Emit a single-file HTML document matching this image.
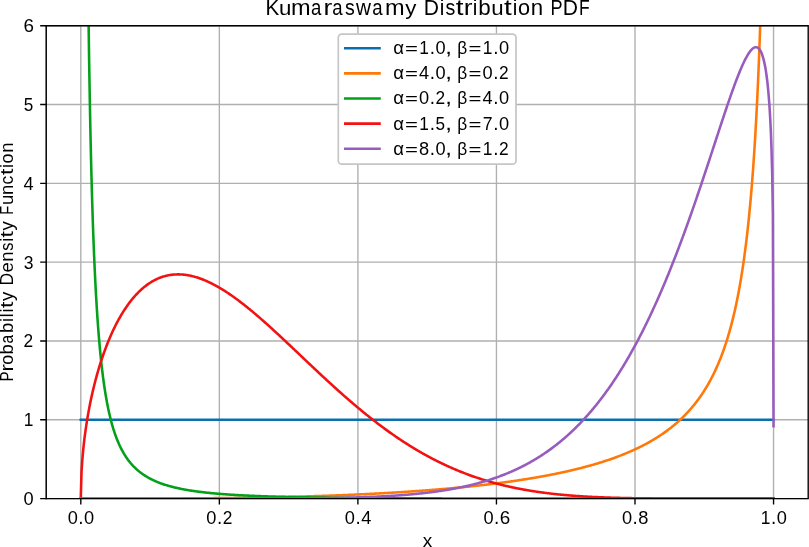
<!DOCTYPE html>
<html><head><meta charset="utf-8"><title>Kumaraswamy Distribution PDF</title>
<style>html,body{margin:0;padding:0;background:#fff;}body{width:809px;height:547px;overflow:hidden;position:relative;font-family:"Liberation Sans",sans-serif;}</style>
</head><body>
<svg width="809" height="547" viewBox="0 0 809 547" style="position:absolute;left:0;top:0;will-change:transform">
<rect width="809" height="547" fill="#fff"/>
<defs><clipPath id="ax"><rect x="46.16" y="25.7" width="762.0400000000001" height="472.90000000000003"/></clipPath></defs>
<path d="M80.80 25.70V498.60M219.35 25.70V498.60M357.90 25.70V498.60M496.45 25.70V498.60M635.00 25.70V498.60M773.55 25.70V498.60M46.16 498.60H808.20M46.16 419.78H808.20M46.16 340.97H808.20M46.16 262.15H808.20M46.16 183.33H808.20M46.16 104.52H808.20M46.16 25.70H808.20" stroke="#b0b0b0" stroke-width="1.37" fill="none" stroke-linecap="butt"/>
<g clip-path="url(#ax)" fill="none" stroke-width="2.57" stroke-linejoin="round" stroke-linecap="square">
<polyline points="80.80,419.78 81.49,419.78 82.19,419.78 82.88,419.78 83.57,419.78 84.27,419.78 84.96,419.78 85.65,419.78 86.35,419.78 87.04,419.78 87.74,419.78 88.43,419.78 89.12,419.78 89.82,419.78 90.51,419.78 91.20,419.78 91.90,419.78 92.59,419.78 93.28,419.78 93.98,419.78 94.67,419.78 95.36,419.78 96.06,419.78 96.75,419.78 97.44,419.78 98.14,419.78 98.83,419.78 99.52,419.78 100.22,419.78 100.91,419.78 101.60,419.78 102.30,419.78 102.99,419.78 103.68,419.78 104.38,419.78 105.07,419.78 105.76,419.78 106.46,419.78 107.15,419.78 107.84,419.78 108.54,419.78 109.23,419.78 109.93,419.78 110.62,419.78 111.31,419.78 112.01,419.78 112.70,419.78 113.39,419.78 114.09,419.78 114.78,419.78 115.47,419.78 116.17,419.78 116.86,419.78 117.55,419.78 118.25,419.78 118.94,419.78 119.63,419.78 120.33,419.78 121.02,419.78 121.71,419.78 122.41,419.78 123.10,419.78 123.79,419.78 124.49,419.78 125.18,419.78 125.87,419.78 126.57,419.78 127.26,419.78 127.95,419.78 128.65,419.78 129.34,419.78 130.04,419.78 130.73,419.78 131.42,419.78 132.12,419.78 132.81,419.78 133.50,419.78 134.20,419.78 134.89,419.78 135.58,419.78 136.28,419.78 136.97,419.78 137.66,419.78 138.36,419.78 139.05,419.78 139.74,419.78 140.44,419.78 141.13,419.78 141.82,419.78 142.52,419.78 143.21,419.78 143.90,419.78 144.60,419.78 145.29,419.78 145.98,419.78 146.68,419.78 147.37,419.78 148.06,419.78 148.76,419.78 149.45,419.78 150.14,419.78 150.84,419.78 151.53,419.78 152.23,419.78 152.92,419.78 153.61,419.78 154.31,419.78 155.00,419.78 155.69,419.78 156.39,419.78 157.08,419.78 157.77,419.78 158.47,419.78 159.16,419.78 159.85,419.78 160.55,419.78 161.24,419.78 161.93,419.78 162.63,419.78 163.32,419.78 164.01,419.78 164.71,419.78 165.40,419.78 166.09,419.78 166.79,419.78 167.48,419.78 168.17,419.78 168.87,419.78 169.56,419.78 170.25,419.78 170.95,419.78 171.64,419.78 172.34,419.78 173.03,419.78 173.72,419.78 174.42,419.78 175.11,419.78 175.80,419.78 176.50,419.78 177.19,419.78 177.88,419.78 178.58,419.78 179.27,419.78 179.96,419.78 180.66,419.78 181.35,419.78 182.04,419.78 182.74,419.78 183.43,419.78 184.12,419.78 184.82,419.78 185.51,419.78 186.20,419.78 186.90,419.78 187.59,419.78 188.28,419.78 188.98,419.78 189.67,419.78 190.36,419.78 191.06,419.78 191.75,419.78 192.44,419.78 193.14,419.78 193.83,419.78 194.53,419.78 195.22,419.78 195.91,419.78 196.61,419.78 197.30,419.78 197.99,419.78 198.69,419.78 199.38,419.78 200.07,419.78 200.77,419.78 201.46,419.78 202.15,419.78 202.85,419.78 203.54,419.78 204.23,419.78 204.93,419.78 205.62,419.78 206.31,419.78 207.01,419.78 207.70,419.78 208.39,419.78 209.09,419.78 209.78,419.78 210.47,419.78 211.17,419.78 211.86,419.78 212.55,419.78 213.25,419.78 213.94,419.78 214.64,419.78 215.33,419.78 216.02,419.78 216.72,419.78 217.41,419.78 218.10,419.78 218.80,419.78 219.49,419.78 220.18,419.78 220.88,419.78 221.57,419.78 222.26,419.78 222.96,419.78 223.65,419.78 224.34,419.78 225.04,419.78 225.73,419.78 226.42,419.78 227.12,419.78 227.81,419.78 228.50,419.78 229.20,419.78 229.89,419.78 230.58,419.78 231.28,419.78 231.97,419.78 232.66,419.78 233.36,419.78 234.05,419.78 234.74,419.78 235.44,419.78 236.13,419.78 236.83,419.78 237.52,419.78 238.21,419.78 238.91,419.78 239.60,419.78 240.29,419.78 240.99,419.78 241.68,419.78 242.37,419.78 243.07,419.78 243.76,419.78 244.45,419.78 245.15,419.78 245.84,419.78 246.53,419.78 247.23,419.78 247.92,419.78 248.61,419.78 249.31,419.78 250.00,419.78 250.69,419.78 251.39,419.78 252.08,419.78 252.77,419.78 253.47,419.78 254.16,419.78 254.85,419.78 255.55,419.78 256.24,419.78 256.93,419.78 257.63,419.78 258.32,419.78 259.02,419.78 259.71,419.78 260.40,419.78 261.10,419.78 261.79,419.78 262.48,419.78 263.18,419.78 263.87,419.78 264.56,419.78 265.26,419.78 265.95,419.78 266.64,419.78 267.34,419.78 268.03,419.78 268.72,419.78 269.42,419.78 270.11,419.78 270.80,419.78 271.50,419.78 272.19,419.78 272.88,419.78 273.58,419.78 274.27,419.78 274.96,419.78 275.66,419.78 276.35,419.78 277.04,419.78 277.74,419.78 278.43,419.78 279.13,419.78 279.82,419.78 280.51,419.78 281.21,419.78 281.90,419.78 282.59,419.78 283.29,419.78 283.98,419.78 284.67,419.78 285.37,419.78 286.06,419.78 286.75,419.78 287.45,419.78 288.14,419.78 288.83,419.78 289.53,419.78 290.22,419.78 290.91,419.78 291.61,419.78 292.30,419.78 292.99,419.78 293.69,419.78 294.38,419.78 295.07,419.78 295.77,419.78 296.46,419.78 297.15,419.78 297.85,419.78 298.54,419.78 299.23,419.78 299.93,419.78 300.62,419.78 301.32,419.78 302.01,419.78 302.70,419.78 303.40,419.78 304.09,419.78 304.78,419.78 305.48,419.78 306.17,419.78 306.86,419.78 307.56,419.78 308.25,419.78 308.94,419.78 309.64,419.78 310.33,419.78 311.02,419.78 311.72,419.78 312.41,419.78 313.10,419.78 313.80,419.78 314.49,419.78 315.18,419.78 315.88,419.78 316.57,419.78 317.26,419.78 317.96,419.78 318.65,419.78 319.34,419.78 320.04,419.78 320.73,419.78 321.43,419.78 322.12,419.78 322.81,419.78 323.51,419.78 324.20,419.78 324.89,419.78 325.59,419.78 326.28,419.78 326.97,419.78 327.67,419.78 328.36,419.78 329.05,419.78 329.75,419.78 330.44,419.78 331.13,419.78 331.83,419.78 332.52,419.78 333.21,419.78 333.91,419.78 334.60,419.78 335.29,419.78 335.99,419.78 336.68,419.78 337.37,419.78 338.07,419.78 338.76,419.78 339.45,419.78 340.15,419.78 340.84,419.78 341.53,419.78 342.23,419.78 342.92,419.78 343.62,419.78 344.31,419.78 345.00,419.78 345.70,419.78 346.39,419.78 347.08,419.78 347.78,419.78 348.47,419.78 349.16,419.78 349.86,419.78 350.55,419.78 351.24,419.78 351.94,419.78 352.63,419.78 353.32,419.78 354.02,419.78 354.71,419.78 355.40,419.78 356.10,419.78 356.79,419.78 357.48,419.78 358.18,419.78 358.87,419.78 359.56,419.78 360.26,419.78 360.95,419.78 361.64,419.78 362.34,419.78 363.03,419.78 363.73,419.78 364.42,419.78 365.11,419.78 365.81,419.78 366.50,419.78 367.19,419.78 367.89,419.78 368.58,419.78 369.27,419.78 369.97,419.78 370.66,419.78 371.35,419.78 372.05,419.78 372.74,419.78 373.43,419.78 374.13,419.78 374.82,419.78 375.51,419.78 376.21,419.78 376.90,419.78 377.59,419.78 378.29,419.78 378.98,419.78 379.67,419.78 380.37,419.78 381.06,419.78 381.75,419.78 382.45,419.78 383.14,419.78 383.83,419.78 384.53,419.78 385.22,419.78 385.92,419.78 386.61,419.78 387.30,419.78 388.00,419.78 388.69,419.78 389.38,419.78 390.08,419.78 390.77,419.78 391.46,419.78 392.16,419.78 392.85,419.78 393.54,419.78 394.24,419.78 394.93,419.78 395.62,419.78 396.32,419.78 397.01,419.78 397.70,419.78 398.40,419.78 399.09,419.78 399.78,419.78 400.48,419.78 401.17,419.78 401.86,419.78 402.56,419.78 403.25,419.78 403.94,419.78 404.64,419.78 405.33,419.78 406.03,419.78 406.72,419.78 407.41,419.78 408.11,419.78 408.80,419.78 409.49,419.78 410.19,419.78 410.88,419.78 411.57,419.78 412.27,419.78 412.96,419.78 413.65,419.78 414.35,419.78 415.04,419.78 415.73,419.78 416.43,419.78 417.12,419.78 417.81,419.78 418.51,419.78 419.20,419.78 419.89,419.78 420.59,419.78 421.28,419.78 421.97,419.78 422.67,419.78 423.36,419.78 424.05,419.78 424.75,419.78 425.44,419.78 426.13,419.78 426.83,419.78 427.52,419.78 428.22,419.78 428.91,419.78 429.60,419.78 430.30,419.78 430.99,419.78 431.68,419.78 432.38,419.78 433.07,419.78 433.76,419.78 434.46,419.78 435.15,419.78 435.84,419.78 436.54,419.78 437.23,419.78 437.92,419.78 438.62,419.78 439.31,419.78 440.00,419.78 440.70,419.78 441.39,419.78 442.08,419.78 442.78,419.78 443.47,419.78 444.16,419.78 444.86,419.78 445.55,419.78 446.24,419.78 446.94,419.78 447.63,419.78 448.32,419.78 449.02,419.78 449.71,419.78 450.41,419.78 451.10,419.78 451.79,419.78 452.49,419.78 453.18,419.78 453.87,419.78 454.57,419.78 455.26,419.78 455.95,419.78 456.65,419.78 457.34,419.78 458.03,419.78 458.73,419.78 459.42,419.78 460.11,419.78 460.81,419.78 461.50,419.78 462.19,419.78 462.89,419.78 463.58,419.78 464.27,419.78 464.97,419.78 465.66,419.78 466.35,419.78 467.05,419.78 467.74,419.78 468.43,419.78 469.13,419.78 469.82,419.78 470.52,419.78 471.21,419.78 471.90,419.78 472.60,419.78 473.29,419.78 473.98,419.78 474.68,419.78 475.37,419.78 476.06,419.78 476.76,419.78 477.45,419.78 478.14,419.78 478.84,419.78 479.53,419.78 480.22,419.78 480.92,419.78 481.61,419.78 482.30,419.78 483.00,419.78 483.69,419.78 484.38,419.78 485.08,419.78 485.77,419.78 486.46,419.78 487.16,419.78 487.85,419.78 488.54,419.78 489.24,419.78 489.93,419.78 490.62,419.78 491.32,419.78 492.01,419.78 492.71,419.78 493.40,419.78 494.09,419.78 494.79,419.78 495.48,419.78 496.17,419.78 496.87,419.78 497.56,419.78 498.25,419.78 498.95,419.78 499.64,419.78 500.33,419.78 501.03,419.78 501.72,419.78 502.41,419.78 503.11,419.78 503.80,419.78 504.49,419.78 505.19,419.78 505.88,419.78 506.57,419.78 507.27,419.78 507.96,419.78 508.65,419.78 509.35,419.78 510.04,419.78 510.73,419.78 511.43,419.78 512.12,419.78 512.82,419.78 513.51,419.78 514.20,419.78 514.90,419.78 515.59,419.78 516.28,419.78 516.98,419.78 517.67,419.78 518.36,419.78 519.06,419.78 519.75,419.78 520.44,419.78 521.14,419.78 521.83,419.78 522.52,419.78 523.22,419.78 523.91,419.78 524.60,419.78 525.30,419.78 525.99,419.78 526.68,419.78 527.38,419.78 528.07,419.78 528.76,419.78 529.46,419.78 530.15,419.78 530.84,419.78 531.54,419.78 532.23,419.78 532.92,419.78 533.62,419.78 534.31,419.78 535.01,419.78 535.70,419.78 536.39,419.78 537.09,419.78 537.78,419.78 538.47,419.78 539.17,419.78 539.86,419.78 540.55,419.78 541.25,419.78 541.94,419.78 542.63,419.78 543.33,419.78 544.02,419.78 544.71,419.78 545.41,419.78 546.10,419.78 546.79,419.78 547.49,419.78 548.18,419.78 548.87,419.78 549.57,419.78 550.26,419.78 550.95,419.78 551.65,419.78 552.34,419.78 553.03,419.78 553.73,419.78 554.42,419.78 555.12,419.78 555.81,419.78 556.50,419.78 557.20,419.78 557.89,419.78 558.58,419.78 559.28,419.78 559.97,419.78 560.66,419.78 561.36,419.78 562.05,419.78 562.74,419.78 563.44,419.78 564.13,419.78 564.82,419.78 565.52,419.78 566.21,419.78 566.90,419.78 567.60,419.78 568.29,419.78 568.98,419.78 569.68,419.78 570.37,419.78 571.06,419.78 571.76,419.78 572.45,419.78 573.14,419.78 573.84,419.78 574.53,419.78 575.22,419.78 575.92,419.78 576.61,419.78 577.31,419.78 578.00,419.78 578.69,419.78 579.39,419.78 580.08,419.78 580.77,419.78 581.47,419.78 582.16,419.78 582.85,419.78 583.55,419.78 584.24,419.78 584.93,419.78 585.63,419.78 586.32,419.78 587.01,419.78 587.71,419.78 588.40,419.78 589.09,419.78 589.79,419.78 590.48,419.78 591.17,419.78 591.87,419.78 592.56,419.78 593.25,419.78 593.95,419.78 594.64,419.78 595.33,419.78 596.03,419.78 596.72,419.78 597.42,419.78 598.11,419.78 598.80,419.78 599.50,419.78 600.19,419.78 600.88,419.78 601.58,419.78 602.27,419.78 602.96,419.78 603.66,419.78 604.35,419.78 605.04,419.78 605.74,419.78 606.43,419.78 607.12,419.78 607.82,419.78 608.51,419.78 609.20,419.78 609.90,419.78 610.59,419.78 611.28,419.78 611.98,419.78 612.67,419.78 613.36,419.78 614.06,419.78 614.75,419.78 615.44,419.78 616.14,419.78 616.83,419.78 617.52,419.78 618.22,419.78 618.91,419.78 619.61,419.78 620.30,419.78 620.99,419.78 621.69,419.78 622.38,419.78 623.07,419.78 623.77,419.78 624.46,419.78 625.15,419.78 625.85,419.78 626.54,419.78 627.23,419.78 627.93,419.78 628.62,419.78 629.31,419.78 630.01,419.78 630.70,419.78 631.39,419.78 632.09,419.78 632.78,419.78 633.47,419.78 634.17,419.78 634.86,419.78 635.55,419.78 636.25,419.78 636.94,419.78 637.63,419.78 638.33,419.78 639.02,419.78 639.71,419.78 640.41,419.78 641.10,419.78 641.80,419.78 642.49,419.78 643.18,419.78 643.88,419.78 644.57,419.78 645.26,419.78 645.96,419.78 646.65,419.78 647.34,419.78 648.04,419.78 648.73,419.78 649.42,419.78 650.12,419.78 650.81,419.78 651.50,419.78 652.20,419.78 652.89,419.78 653.58,419.78 654.28,419.78 654.97,419.78 655.66,419.78 656.36,419.78 657.05,419.78 657.74,419.78 658.44,419.78 659.13,419.78 659.82,419.78 660.52,419.78 661.21,419.78 661.91,419.78 662.60,419.78 663.29,419.78 663.99,419.78 664.68,419.78 665.37,419.78 666.07,419.78 666.76,419.78 667.45,419.78 668.15,419.78 668.84,419.78 669.53,419.78 670.23,419.78 670.92,419.78 671.61,419.78 672.31,419.78 673.00,419.78 673.69,419.78 674.39,419.78 675.08,419.78 675.77,419.78 676.47,419.78 677.16,419.78 677.85,419.78 678.55,419.78 679.24,419.78 679.93,419.78 680.63,419.78 681.32,419.78 682.01,419.78 682.71,419.78 683.40,419.78 684.10,419.78 684.79,419.78 685.48,419.78 686.18,419.78 686.87,419.78 687.56,419.78 688.26,419.78 688.95,419.78 689.64,419.78 690.34,419.78 691.03,419.78 691.72,419.78 692.42,419.78 693.11,419.78 693.80,419.78 694.50,419.78 695.19,419.78 695.88,419.78 696.58,419.78 697.27,419.78 697.96,419.78 698.66,419.78 699.35,419.78 700.04,419.78 700.74,419.78 701.43,419.78 702.12,419.78 702.82,419.78 703.51,419.78 704.21,419.78 704.90,419.78 705.59,419.78 706.29,419.78 706.98,419.78 707.67,419.78 708.37,419.78 709.06,419.78 709.75,419.78 710.45,419.78 711.14,419.78 711.83,419.78 712.53,419.78 713.22,419.78 713.91,419.78 714.61,419.78 715.30,419.78 715.99,419.78 716.69,419.78 717.38,419.78 718.07,419.78 718.77,419.78 719.46,419.78 720.15,419.78 720.85,419.78 721.54,419.78 722.23,419.78 722.93,419.78 723.62,419.78 724.31,419.78 725.01,419.78 725.70,419.78 726.40,419.78 727.09,419.78 727.78,419.78 728.48,419.78 729.17,419.78 729.86,419.78 730.56,419.78 731.25,419.78 731.94,419.78 732.64,419.78 733.33,419.78 734.02,419.78 734.72,419.78 735.41,419.78 736.10,419.78 736.80,419.78 737.49,419.78 738.18,419.78 738.88,419.78 739.57,419.78 740.26,419.78 740.96,419.78 741.65,419.78 742.34,419.78 743.04,419.78 743.73,419.78 744.42,419.78 745.12,419.78 745.81,419.78 746.51,419.78 747.20,419.78 747.89,419.78 748.59,419.78 749.28,419.78 749.97,419.78 750.67,419.78 751.36,419.78 752.05,419.78 752.75,419.78 753.44,419.78 754.13,419.78 754.83,419.78 755.52,419.78 756.21,419.78 756.91,419.78 757.60,419.78 758.29,419.78 758.99,419.78 759.68,419.78 760.37,419.78 761.07,419.78 761.76,419.78 762.45,419.78 763.15,419.78 763.84,419.78 764.53,419.78 765.23,419.78 765.92,419.78 766.61,419.78 767.31,419.78 768.00,419.78 768.70,419.78 769.39,419.78 770.08,419.78 770.78,419.78 771.47,419.78 772.16,419.78 772.86,419.78 773.55,419.78" stroke="#0a6fae"/>
<polyline points="80.80,498.60 81.49,498.60 82.19,498.60 82.88,498.60 83.57,498.60 84.27,498.60 84.96,498.60 85.65,498.60 86.35,498.60 87.04,498.60 87.74,498.60 88.43,498.60 89.12,498.60 89.82,498.60 90.51,498.60 91.20,498.60 91.90,498.60 92.59,498.60 93.28,498.60 93.98,498.60 94.67,498.60 95.36,498.60 96.06,498.60 96.75,498.60 97.44,498.60 98.14,498.60 98.83,498.60 99.52,498.60 100.22,498.60 100.91,498.60 101.60,498.60 102.30,498.60 102.99,498.60 103.68,498.60 104.38,498.60 105.07,498.60 105.76,498.60 106.46,498.60 107.15,498.60 107.84,498.60 108.54,498.60 109.23,498.60 109.93,498.60 110.62,498.59 111.31,498.59 112.01,498.59 112.70,498.59 113.39,498.59 114.09,498.59 114.78,498.59 115.47,498.59 116.17,498.59 116.86,498.59 117.55,498.59 118.25,498.59 118.94,498.59 119.63,498.59 120.33,498.59 121.02,498.59 121.71,498.59 122.41,498.59 123.10,498.59 123.79,498.58 124.49,498.58 125.18,498.58 125.87,498.58 126.57,498.58 127.26,498.58 127.95,498.58 128.65,498.58 129.34,498.58 130.04,498.58 130.73,498.58 131.42,498.58 132.12,498.57 132.81,498.57 133.50,498.57 134.20,498.57 134.89,498.57 135.58,498.57 136.28,498.57 136.97,498.57 137.66,498.57 138.36,498.56 139.05,498.56 139.74,498.56 140.44,498.56 141.13,498.56 141.82,498.56 142.52,498.56 143.21,498.55 143.90,498.55 144.60,498.55 145.29,498.55 145.98,498.55 146.68,498.55 147.37,498.54 148.06,498.54 148.76,498.54 149.45,498.54 150.14,498.54 150.84,498.53 151.53,498.53 152.23,498.53 152.92,498.53 153.61,498.53 154.31,498.52 155.00,498.52 155.69,498.52 156.39,498.52 157.08,498.52 157.77,498.51 158.47,498.51 159.16,498.51 159.85,498.51 160.55,498.50 161.24,498.50 161.93,498.50 162.63,498.50 163.32,498.49 164.01,498.49 164.71,498.49 165.40,498.49 166.09,498.48 166.79,498.48 167.48,498.48 168.17,498.47 168.87,498.47 169.56,498.47 170.25,498.46 170.95,498.46 171.64,498.46 172.34,498.45 173.03,498.45 173.72,498.45 174.42,498.44 175.11,498.44 175.80,498.44 176.50,498.43 177.19,498.43 177.88,498.43 178.58,498.42 179.27,498.42 179.96,498.41 180.66,498.41 181.35,498.41 182.04,498.40 182.74,498.40 183.43,498.39 184.12,498.39 184.82,498.39 185.51,498.38 186.20,498.38 186.90,498.37 187.59,498.37 188.28,498.36 188.98,498.36 189.67,498.36 190.36,498.35 191.06,498.35 191.75,498.34 192.44,498.34 193.14,498.33 193.83,498.33 194.53,498.32 195.22,498.32 195.91,498.31 196.61,498.31 197.30,498.30 197.99,498.29 198.69,498.29 199.38,498.28 200.07,498.28 200.77,498.27 201.46,498.27 202.15,498.26 202.85,498.25 203.54,498.25 204.23,498.24 204.93,498.24 205.62,498.23 206.31,498.22 207.01,498.22 207.70,498.21 208.39,498.21 209.09,498.20 209.78,498.19 210.47,498.19 211.17,498.18 211.86,498.17 212.55,498.17 213.25,498.16 213.94,498.15 214.64,498.14 215.33,498.14 216.02,498.13 216.72,498.12 217.41,498.12 218.10,498.11 218.80,498.10 219.49,498.09 220.18,498.09 220.88,498.08 221.57,498.07 222.26,498.06 222.96,498.05 223.65,498.05 224.34,498.04 225.04,498.03 225.73,498.02 226.42,498.01 227.12,498.00 227.81,498.00 228.50,497.99 229.20,497.98 229.89,497.97 230.58,497.96 231.28,497.95 231.97,497.94 232.66,497.93 233.36,497.93 234.05,497.92 234.74,497.91 235.44,497.90 236.13,497.89 236.83,497.88 237.52,497.87 238.21,497.86 238.91,497.85 239.60,497.84 240.29,497.83 240.99,497.82 241.68,497.81 242.37,497.80 243.07,497.79 243.76,497.78 244.45,497.77 245.15,497.76 245.84,497.75 246.53,497.73 247.23,497.72 247.92,497.71 248.61,497.70 249.31,497.69 250.00,497.68 250.69,497.67 251.39,497.66 252.08,497.64 252.77,497.63 253.47,497.62 254.16,497.61 254.85,497.60 255.55,497.58 256.24,497.57 256.93,497.56 257.63,497.55 258.32,497.54 259.02,497.52 259.71,497.51 260.40,497.50 261.10,497.48 261.79,497.47 262.48,497.46 263.18,497.45 263.87,497.43 264.56,497.42 265.26,497.40 265.95,497.39 266.64,497.38 267.34,497.36 268.03,497.35 268.72,497.34 269.42,497.32 270.11,497.31 270.80,497.29 271.50,497.28 272.19,497.26 272.88,497.25 273.58,497.23 274.27,497.22 274.96,497.20 275.66,497.19 276.35,497.17 277.04,497.16 277.74,497.14 278.43,497.13 279.13,497.11 279.82,497.10 280.51,497.08 281.21,497.06 281.90,497.05 282.59,497.03 283.29,497.02 283.98,497.00 284.67,496.98 285.37,496.97 286.06,496.95 286.75,496.93 287.45,496.92 288.14,496.90 288.83,496.88 289.53,496.86 290.22,496.85 290.91,496.83 291.61,496.81 292.30,496.79 292.99,496.78 293.69,496.76 294.38,496.74 295.07,496.72 295.77,496.70 296.46,496.68 297.15,496.66 297.85,496.65 298.54,496.63 299.23,496.61 299.93,496.59 300.62,496.57 301.32,496.55 302.01,496.53 302.70,496.51 303.40,496.49 304.09,496.47 304.78,496.45 305.48,496.43 306.17,496.41 306.86,496.39 307.56,496.37 308.25,496.35 308.94,496.33 309.64,496.31 310.33,496.28 311.02,496.26 311.72,496.24 312.41,496.22 313.10,496.20 313.80,496.18 314.49,496.15 315.18,496.13 315.88,496.11 316.57,496.09 317.26,496.06 317.96,496.04 318.65,496.02 319.34,496.00 320.04,495.97 320.73,495.95 321.43,495.93 322.12,495.90 322.81,495.88 323.51,495.86 324.20,495.83 324.89,495.81 325.59,495.78 326.28,495.76 326.97,495.73 327.67,495.71 328.36,495.68 329.05,495.66 329.75,495.63 330.44,495.61 331.13,495.58 331.83,495.56 332.52,495.53 333.21,495.51 333.91,495.48 334.60,495.45 335.29,495.43 335.99,495.40 336.68,495.37 337.37,495.35 338.07,495.32 338.76,495.29 339.45,495.27 340.15,495.24 340.84,495.21 341.53,495.18 342.23,495.16 342.92,495.13 343.62,495.10 344.31,495.07 345.00,495.04 345.70,495.01 346.39,494.98 347.08,494.96 347.78,494.93 348.47,494.90 349.16,494.87 349.86,494.84 350.55,494.81 351.24,494.78 351.94,494.75 352.63,494.72 353.32,494.69 354.02,494.66 354.71,494.62 355.40,494.59 356.10,494.56 356.79,494.53 357.48,494.50 358.18,494.47 358.87,494.44 359.56,494.40 360.26,494.37 360.95,494.34 361.64,494.31 362.34,494.27 363.03,494.24 363.73,494.21 364.42,494.17 365.11,494.14 365.81,494.11 366.50,494.07 367.19,494.04 367.89,494.00 368.58,493.97 369.27,493.93 369.97,493.90 370.66,493.86 371.35,493.83 372.05,493.79 372.74,493.76 373.43,493.72 374.13,493.69 374.82,493.65 375.51,493.61 376.21,493.58 376.90,493.54 377.59,493.50 378.29,493.47 378.98,493.43 379.67,493.39 380.37,493.35 381.06,493.32 381.75,493.28 382.45,493.24 383.14,493.20 383.83,493.16 384.53,493.12 385.22,493.08 385.92,493.04 386.61,493.01 387.30,492.97 388.00,492.93 388.69,492.89 389.38,492.84 390.08,492.80 390.77,492.76 391.46,492.72 392.16,492.68 392.85,492.64 393.54,492.60 394.24,492.56 394.93,492.51 395.62,492.47 396.32,492.43 397.01,492.39 397.70,492.34 398.40,492.30 399.09,492.26 399.78,492.21 400.48,492.17 401.17,492.13 401.86,492.08 402.56,492.04 403.25,491.99 403.94,491.95 404.64,491.90 405.33,491.86 406.03,491.81 406.72,491.76 407.41,491.72 408.11,491.67 408.80,491.63 409.49,491.58 410.19,491.53 410.88,491.48 411.57,491.44 412.27,491.39 412.96,491.34 413.65,491.29 414.35,491.24 415.04,491.20 415.73,491.15 416.43,491.10 417.12,491.05 417.81,491.00 418.51,490.95 419.20,490.90 419.89,490.85 420.59,490.80 421.28,490.75 421.97,490.69 422.67,490.64 423.36,490.59 424.05,490.54 424.75,490.49 425.44,490.43 426.13,490.38 426.83,490.33 427.52,490.27 428.22,490.22 428.91,490.17 429.60,490.11 430.30,490.06 430.99,490.00 431.68,489.95 432.38,489.89 433.07,489.84 433.76,489.78 434.46,489.73 435.15,489.67 435.84,489.61 436.54,489.56 437.23,489.50 437.92,489.44 438.62,489.38 439.31,489.32 440.00,489.27 440.70,489.21 441.39,489.15 442.08,489.09 442.78,489.03 443.47,488.97 444.16,488.91 444.86,488.85 445.55,488.79 446.24,488.73 446.94,488.67 447.63,488.60 448.32,488.54 449.02,488.48 449.71,488.42 450.41,488.35 451.10,488.29 451.79,488.23 452.49,488.16 453.18,488.10 453.87,488.03 454.57,487.97 455.26,487.90 455.95,487.84 456.65,487.77 457.34,487.71 458.03,487.64 458.73,487.57 459.42,487.51 460.11,487.44 460.81,487.37 461.50,487.30 462.19,487.23 462.89,487.17 463.58,487.10 464.27,487.03 464.97,486.96 465.66,486.89 466.35,486.82 467.05,486.75 467.74,486.67 468.43,486.60 469.13,486.53 469.82,486.46 470.52,486.39 471.21,486.31 471.90,486.24 472.60,486.16 473.29,486.09 473.98,486.02 474.68,485.94 475.37,485.87 476.06,485.79 476.76,485.71 477.45,485.64 478.14,485.56 478.84,485.48 479.53,485.41 480.22,485.33 480.92,485.25 481.61,485.17 482.30,485.09 483.00,485.01 483.69,484.93 484.38,484.85 485.08,484.77 485.77,484.69 486.46,484.61 487.16,484.52 487.85,484.44 488.54,484.36 489.24,484.27 489.93,484.19 490.62,484.11 491.32,484.02 492.01,483.94 492.71,483.85 493.40,483.76 494.09,483.68 494.79,483.59 495.48,483.50 496.17,483.42 496.87,483.33 497.56,483.24 498.25,483.15 498.95,483.06 499.64,482.97 500.33,482.88 501.03,482.79 501.72,482.70 502.41,482.60 503.11,482.51 503.80,482.42 504.49,482.33 505.19,482.23 505.88,482.14 506.57,482.04 507.27,481.95 507.96,481.85 508.65,481.75 509.35,481.66 510.04,481.56 510.73,481.46 511.43,481.36 512.12,481.26 512.82,481.16 513.51,481.06 514.20,480.96 514.90,480.86 515.59,480.76 516.28,480.66 516.98,480.55 517.67,480.45 518.36,480.35 519.06,480.24 519.75,480.14 520.44,480.03 521.14,479.93 521.83,479.82 522.52,479.71 523.22,479.60 523.91,479.49 524.60,479.39 525.30,479.28 525.99,479.16 526.68,479.05 527.38,478.94 528.07,478.83 528.76,478.72 529.46,478.60 530.15,478.49 530.84,478.37 531.54,478.26 532.23,478.14 532.92,478.03 533.62,477.91 534.31,477.79 535.01,477.67 535.70,477.55 536.39,477.43 537.09,477.31 537.78,477.19 538.47,477.07 539.17,476.95 539.86,476.82 540.55,476.70 541.25,476.57 541.94,476.45 542.63,476.32 543.33,476.19 544.02,476.07 544.71,475.94 545.41,475.81 546.10,475.68 546.79,475.55 547.49,475.42 548.18,475.28 548.87,475.15 549.57,475.02 550.26,474.88 550.95,474.75 551.65,474.61 552.34,474.47 553.03,474.34 553.73,474.20 554.42,474.06 555.12,473.92 555.81,473.78 556.50,473.63 557.20,473.49 557.89,473.35 558.58,473.20 559.28,473.06 559.97,472.91 560.66,472.76 561.36,472.61 562.05,472.47 562.74,472.32 563.44,472.16 564.13,472.01 564.82,471.86 565.52,471.71 566.21,471.55 566.90,471.40 567.60,471.24 568.29,471.08 568.98,470.92 569.68,470.76 570.37,470.60 571.06,470.44 571.76,470.28 572.45,470.11 573.14,469.95 573.84,469.78 574.53,469.62 575.22,469.45 575.92,469.28 576.61,469.11 577.31,468.94 578.00,468.77 578.69,468.59 579.39,468.42 580.08,468.24 580.77,468.07 581.47,467.89 582.16,467.71 582.85,467.53 583.55,467.35 584.24,467.16 584.93,466.98 585.63,466.79 586.32,466.61 587.01,466.42 587.71,466.23 588.40,466.04 589.09,465.85 589.79,465.66 590.48,465.46 591.17,465.26 591.87,465.07 592.56,464.87 593.25,464.67 593.95,464.47 594.64,464.27 595.33,464.06 596.03,463.86 596.72,463.65 597.42,463.44 598.11,463.23 598.80,463.02 599.50,462.81 600.19,462.59 600.88,462.38 601.58,462.16 602.27,461.94 602.96,461.72 603.66,461.50 604.35,461.27 605.04,461.05 605.74,460.82 606.43,460.59 607.12,460.36 607.82,460.13 608.51,459.89 609.20,459.66 609.90,459.42 610.59,459.18 611.28,458.94 611.98,458.69 612.67,458.45 613.36,458.20 614.06,457.95 614.75,457.70 615.44,457.45 616.14,457.19 616.83,456.93 617.52,456.68 618.22,456.41 618.91,456.15 619.61,455.89 620.30,455.62 620.99,455.35 621.69,455.08 622.38,454.80 623.07,454.53 623.77,454.25 624.46,453.97 625.15,453.68 625.85,453.40 626.54,453.11 627.23,452.82 627.93,452.53 628.62,452.23 629.31,451.93 630.01,451.63 630.70,451.33 631.39,451.02 632.09,450.71 632.78,450.40 633.47,450.09 634.17,449.77 634.86,449.45 635.55,449.13 636.25,448.81 636.94,448.48 637.63,448.15 638.33,447.81 639.02,447.48 639.71,447.14 640.41,446.79 641.10,446.45 641.80,446.10 642.49,445.74 643.18,445.39 643.88,445.03 644.57,444.66 645.26,444.30 645.96,443.93 646.65,443.55 647.34,443.18 648.04,442.79 648.73,442.41 649.42,442.02 650.12,441.63 650.81,441.23 651.50,440.83 652.20,440.43 652.89,440.02 653.58,439.61 654.28,439.19 654.97,438.77 655.66,438.34 656.36,437.91 657.05,437.48 657.74,437.04 658.44,436.59 659.13,436.15 659.82,435.69 660.52,435.23 661.21,434.77 661.91,434.30 662.60,433.83 663.29,433.35 663.99,432.87 664.68,432.38 665.37,431.88 666.07,431.38 666.76,430.87 667.45,430.36 668.15,429.84 668.84,429.32 669.53,428.79 670.23,428.25 670.92,427.71 671.61,427.16 672.31,426.60 673.00,426.04 673.69,425.47 674.39,424.89 675.08,424.31 675.77,423.72 676.47,423.12 677.16,422.51 677.85,421.90 678.55,421.28 679.24,420.64 679.93,420.01 680.63,419.36 681.32,418.70 682.01,418.04 682.71,417.37 683.40,416.68 684.10,415.99 684.79,415.29 685.48,414.58 686.18,413.86 686.87,413.13 687.56,412.39 688.26,411.64 688.95,410.87 689.64,410.10 690.34,409.31 691.03,408.52 691.72,407.71 692.42,406.89 693.11,406.05 693.80,405.21 694.50,404.35 695.19,403.48 695.88,402.59 696.58,401.69 697.27,400.77 697.96,399.84 698.66,398.90 699.35,397.94 700.04,396.96 700.74,395.97 701.43,394.96 702.12,393.93 702.82,392.89 703.51,391.83 704.21,390.74 704.90,389.64 705.59,388.52 706.29,387.38 706.98,386.22 707.67,385.03 708.37,383.83 709.06,382.60 709.75,381.35 710.45,380.07 711.14,378.77 711.83,377.44 712.53,376.08 713.22,374.70 713.91,373.29 714.61,371.85 715.30,370.38 715.99,368.88 716.69,367.35 717.38,365.78 718.07,364.18 718.77,362.54 719.46,360.86 720.15,359.15 720.85,357.40 721.54,355.60 722.23,353.76 722.93,351.88 723.62,349.95 724.31,347.98 725.01,345.95 725.70,343.87 726.40,341.74 727.09,339.55 727.78,337.30 728.48,334.99 729.17,332.62 729.86,330.18 730.56,327.67 731.25,325.09 731.94,322.43 732.64,319.69 733.33,316.87 734.02,313.96 734.72,310.96 735.41,307.86 736.10,304.65 736.80,301.35 737.49,297.92 738.18,294.38 738.88,290.72 739.57,286.92 740.26,282.98 740.96,278.89 741.65,274.64 742.34,270.23 743.04,265.64 743.73,260.85 744.42,255.87 745.12,250.67 745.81,245.23 746.51,239.55 747.20,233.61 747.89,227.38 748.59,220.83 749.28,213.96 749.97,206.73 750.67,199.11 751.36,191.06 752.05,182.55 752.75,173.54 753.44,163.97 754.13,153.79 754.83,142.95 755.52,131.36 756.21,118.94 756.91,105.60 757.60,91.23 758.29,75.69 758.99,58.84 759.68,40.49 760.37,20.41 761.07,-1.65 761.76,-26.03 762.45,-53.12 763.15,-83.42 763.84,-117.58 764.53,-156.42 765.23,-201.02 765.92,-252.82 766.61,-313.84 767.31,-386.90 768.00,-476.16 768.70,-588.02 769.39,-732.85 770.08,-928.78 770.78,-1210.78 771.47,-1656.89 772.16,-2487.80 772.86,-4708.34 773.55,-78318.07" stroke="#ff7808"/>
<polyline points="80.80,-78318.07 81.49,-6138.17 82.19,-2772.22 82.88,-1631.62 83.57,-1060.51 84.27,-719.11 84.96,-492.88 85.65,-332.47 86.35,-213.11 87.04,-121.05 87.74,-48.03 88.43,11.20 89.12,60.13 89.82,101.17 90.51,136.05 91.20,166.01 91.90,192.01 92.59,214.76 93.28,234.81 93.98,252.60 94.67,268.48 95.36,282.73 96.06,295.58 96.75,307.22 97.44,317.81 98.14,327.47 98.83,336.32 99.52,344.46 100.22,351.95 100.91,358.88 101.60,365.29 102.30,371.25 102.99,376.80 103.68,381.97 104.38,386.80 105.07,391.32 105.76,395.56 106.46,399.55 107.15,403.30 107.84,406.83 108.54,410.16 109.23,413.31 109.93,416.28 110.62,419.10 111.31,421.78 112.01,424.32 112.70,426.73 113.39,429.02 114.09,431.21 114.78,433.29 115.47,435.28 116.17,437.17 116.86,438.98 117.55,440.71 118.25,442.37 118.94,443.96 119.63,445.48 120.33,446.94 121.02,448.34 121.71,449.68 122.41,450.97 123.10,452.21 123.79,453.41 124.49,454.56 125.18,455.66 125.87,456.73 126.57,457.76 127.26,458.75 127.95,459.71 128.65,460.63 129.34,461.52 130.04,462.38 130.73,463.22 131.42,464.02 132.12,464.80 132.81,465.56 133.50,466.29 134.20,466.99 134.89,467.68 135.58,468.34 136.28,468.99 136.97,469.61 137.66,470.22 138.36,470.81 139.05,471.38 139.74,471.93 140.44,472.47 141.13,472.99 141.82,473.50 142.52,474.00 143.21,474.48 143.90,474.95 144.60,475.40 145.29,475.85 145.98,476.28 146.68,476.70 147.37,477.11 148.06,477.50 148.76,477.89 149.45,478.27 150.14,478.64 150.84,479.00 151.53,479.35 152.23,479.69 152.92,480.03 153.61,480.35 154.31,480.67 155.00,480.98 155.69,481.29 156.39,481.58 157.08,481.87 157.77,482.16 158.47,482.43 159.16,482.70 159.85,482.97 160.55,483.22 161.24,483.48 161.93,483.72 162.63,483.97 163.32,484.20 164.01,484.43 164.71,484.66 165.40,484.88 166.09,485.10 166.79,485.31 167.48,485.52 168.17,485.72 168.87,485.92 169.56,486.12 170.25,486.31 170.95,486.49 171.64,486.68 172.34,486.86 173.03,487.03 173.72,487.21 174.42,487.38 175.11,487.54 175.80,487.71 176.50,487.87 177.19,488.02 177.88,488.18 178.58,488.33 179.27,488.47 179.96,488.62 180.66,488.76 181.35,488.90 182.04,489.04 182.74,489.17 183.43,489.31 184.12,489.44 184.82,489.57 185.51,489.69 186.20,489.81 186.90,489.93 187.59,490.05 188.28,490.17 188.98,490.29 189.67,490.40 190.36,490.51 191.06,490.62 191.75,490.72 192.44,490.83 193.14,490.93 193.83,491.03 194.53,491.13 195.22,491.23 195.91,491.33 196.61,491.43 197.30,491.52 197.99,491.61 198.69,491.70 199.38,491.79 200.07,491.88 200.77,491.96 201.46,492.05 202.15,492.13 202.85,492.21 203.54,492.30 204.23,492.37 204.93,492.45 205.62,492.53 206.31,492.61 207.01,492.68 207.70,492.75 208.39,492.83 209.09,492.90 209.78,492.97 210.47,493.04 211.17,493.11 211.86,493.17 212.55,493.24 213.25,493.30 213.94,493.37 214.64,493.43 215.33,493.49 216.02,493.55 216.72,493.61 217.41,493.67 218.10,493.73 218.80,493.79 219.49,493.85 220.18,493.90 220.88,493.96 221.57,494.01 222.26,494.07 222.96,494.12 223.65,494.17 224.34,494.22 225.04,494.28 225.73,494.33 226.42,494.38 227.12,494.42 227.81,494.47 228.50,494.52 229.20,494.57 229.89,494.61 230.58,494.66 231.28,494.70 231.97,494.75 232.66,494.79 233.36,494.83 234.05,494.88 234.74,494.92 235.44,494.96 236.13,495.00 236.83,495.04 237.52,495.08 238.21,495.12 238.91,495.16 239.60,495.20 240.29,495.23 240.99,495.27 241.68,495.31 242.37,495.34 243.07,495.38 243.76,495.41 244.45,495.45 245.15,495.48 245.84,495.52 246.53,495.55 247.23,495.58 247.92,495.62 248.61,495.65 249.31,495.68 250.00,495.71 250.69,495.74 251.39,495.77 252.08,495.80 252.77,495.83 253.47,495.86 254.16,495.89 254.85,495.92 255.55,495.95 256.24,495.98 256.93,496.01 257.63,496.03 258.32,496.06 259.02,496.09 259.71,496.11 260.40,496.14 261.10,496.17 261.79,496.19 262.48,496.22 263.18,496.24 263.87,496.27 264.56,496.29 265.26,496.32 265.95,496.34 266.64,496.36 267.34,496.39 268.03,496.41 268.72,496.43 269.42,496.45 270.11,496.48 270.80,496.50 271.50,496.52 272.19,496.54 272.88,496.56 273.58,496.58 274.27,496.60 274.96,496.62 275.66,496.64 276.35,496.66 277.04,496.68 277.74,496.70 278.43,496.72 279.13,496.74 279.82,496.76 280.51,496.78 281.21,496.80 281.90,496.81 282.59,496.83 283.29,496.85 283.98,496.87 284.67,496.89 285.37,496.90 286.06,496.92 286.75,496.94 287.45,496.95 288.14,496.97 288.83,496.99 289.53,497.00 290.22,497.02 290.91,497.03 291.61,497.05 292.30,497.06 292.99,497.08 293.69,497.09 294.38,497.11 295.07,497.12 295.77,497.14 296.46,497.15 297.15,497.17 297.85,497.18 298.54,497.20 299.23,497.21 299.93,497.22 300.62,497.24 301.32,497.25 302.01,497.26 302.70,497.28 303.40,497.29 304.09,497.30 304.78,497.31 305.48,497.33 306.17,497.34 306.86,497.35 307.56,497.36 308.25,497.38 308.94,497.39 309.64,497.40 310.33,497.41 311.02,497.42 311.72,497.43 312.41,497.45 313.10,497.46 313.80,497.47 314.49,497.48 315.18,497.49 315.88,497.50 316.57,497.51 317.26,497.52 317.96,497.53 318.65,497.54 319.34,497.55 320.04,497.56 320.73,497.57 321.43,497.58 322.12,497.59 322.81,497.60 323.51,497.61 324.20,497.62 324.89,497.63 325.59,497.64 326.28,497.65 326.97,497.66 327.67,497.67 328.36,497.68 329.05,497.68 329.75,497.69 330.44,497.70 331.13,497.71 331.83,497.72 332.52,497.73 333.21,497.74 333.91,497.74 334.60,497.75 335.29,497.76 335.99,497.77 336.68,497.78 337.37,497.78 338.07,497.79 338.76,497.80 339.45,497.81 340.15,497.81 340.84,497.82 341.53,497.83 342.23,497.84 342.92,497.84 343.62,497.85 344.31,497.86 345.00,497.86 345.70,497.87 346.39,497.88 347.08,497.89 347.78,497.89 348.47,497.90 349.16,497.91 349.86,497.91 350.55,497.92 351.24,497.93 351.94,497.93 352.63,497.94 353.32,497.94 354.02,497.95 354.71,497.96 355.40,497.96 356.10,497.97 356.79,497.97 357.48,497.98 358.18,497.99 358.87,497.99 359.56,498.00 360.26,498.00 360.95,498.01 361.64,498.01 362.34,498.02 363.03,498.03 363.73,498.03 364.42,498.04 365.11,498.04 365.81,498.05 366.50,498.05 367.19,498.06 367.89,498.06 368.58,498.07 369.27,498.07 369.97,498.08 370.66,498.08 371.35,498.09 372.05,498.09 372.74,498.10 373.43,498.10 374.13,498.11 374.82,498.11 375.51,498.12 376.21,498.12 376.90,498.12 377.59,498.13 378.29,498.13 378.98,498.14 379.67,498.14 380.37,498.15 381.06,498.15 381.75,498.15 382.45,498.16 383.14,498.16 383.83,498.17 384.53,498.17 385.22,498.18 385.92,498.18 386.61,498.18 387.30,498.19 388.00,498.19 388.69,498.20 389.38,498.20 390.08,498.20 390.77,498.21 391.46,498.21 392.16,498.21 392.85,498.22 393.54,498.22 394.24,498.22 394.93,498.23 395.62,498.23 396.32,498.24 397.01,498.24 397.70,498.24 398.40,498.25 399.09,498.25 399.78,498.25 400.48,498.26 401.17,498.26 401.86,498.26 402.56,498.27 403.25,498.27 403.94,498.27 404.64,498.27 405.33,498.28 406.03,498.28 406.72,498.28 407.41,498.29 408.11,498.29 408.80,498.29 409.49,498.30 410.19,498.30 410.88,498.30 411.57,498.30 412.27,498.31 412.96,498.31 413.65,498.31 414.35,498.32 415.04,498.32 415.73,498.32 416.43,498.32 417.12,498.33 417.81,498.33 418.51,498.33 419.20,498.33 419.89,498.34 420.59,498.34 421.28,498.34 421.97,498.34 422.67,498.35 423.36,498.35 424.05,498.35 424.75,498.35 425.44,498.36 426.13,498.36 426.83,498.36 427.52,498.36 428.22,498.37 428.91,498.37 429.60,498.37 430.30,498.37 430.99,498.37 431.68,498.38 432.38,498.38 433.07,498.38 433.76,498.38 434.46,498.38 435.15,498.39 435.84,498.39 436.54,498.39 437.23,498.39 437.92,498.40 438.62,498.40 439.31,498.40 440.00,498.40 440.70,498.40 441.39,498.40 442.08,498.41 442.78,498.41 443.47,498.41 444.16,498.41 444.86,498.41 445.55,498.42 446.24,498.42 446.94,498.42 447.63,498.42 448.32,498.42 449.02,498.43 449.71,498.43 450.41,498.43 451.10,498.43 451.79,498.43 452.49,498.43 453.18,498.44 453.87,498.44 454.57,498.44 455.26,498.44 455.95,498.44 456.65,498.44 457.34,498.44 458.03,498.45 458.73,498.45 459.42,498.45 460.11,498.45 460.81,498.45 461.50,498.45 462.19,498.46 462.89,498.46 463.58,498.46 464.27,498.46 464.97,498.46 465.66,498.46 466.35,498.46 467.05,498.47 467.74,498.47 468.43,498.47 469.13,498.47 469.82,498.47 470.52,498.47 471.21,498.47 471.90,498.47 472.60,498.48 473.29,498.48 473.98,498.48 474.68,498.48 475.37,498.48 476.06,498.48 476.76,498.48 477.45,498.48 478.14,498.49 478.84,498.49 479.53,498.49 480.22,498.49 480.92,498.49 481.61,498.49 482.30,498.49 483.00,498.49 483.69,498.49 484.38,498.50 485.08,498.50 485.77,498.50 486.46,498.50 487.16,498.50 487.85,498.50 488.54,498.50 489.24,498.50 489.93,498.50 490.62,498.51 491.32,498.51 492.01,498.51 492.71,498.51 493.40,498.51 494.09,498.51 494.79,498.51 495.48,498.51 496.17,498.51 496.87,498.51 497.56,498.51 498.25,498.52 498.95,498.52 499.64,498.52 500.33,498.52 501.03,498.52 501.72,498.52 502.41,498.52 503.11,498.52 503.80,498.52 504.49,498.52 505.19,498.52 505.88,498.52 506.57,498.53 507.27,498.53 507.96,498.53 508.65,498.53 509.35,498.53 510.04,498.53 510.73,498.53 511.43,498.53 512.12,498.53 512.82,498.53 513.51,498.53 514.20,498.53 514.90,498.53 515.59,498.54 516.28,498.54 516.98,498.54 517.67,498.54 518.36,498.54 519.06,498.54 519.75,498.54 520.44,498.54 521.14,498.54 521.83,498.54 522.52,498.54 523.22,498.54 523.91,498.54 524.60,498.54 525.30,498.54 525.99,498.55 526.68,498.55 527.38,498.55 528.07,498.55 528.76,498.55 529.46,498.55 530.15,498.55 530.84,498.55 531.54,498.55 532.23,498.55 532.92,498.55 533.62,498.55 534.31,498.55 535.01,498.55 535.70,498.55 536.39,498.55 537.09,498.55 537.78,498.56 538.47,498.56 539.17,498.56 539.86,498.56 540.55,498.56 541.25,498.56 541.94,498.56 542.63,498.56 543.33,498.56 544.02,498.56 544.71,498.56 545.41,498.56 546.10,498.56 546.79,498.56 547.49,498.56 548.18,498.56 548.87,498.56 549.57,498.56 550.26,498.56 550.95,498.56 551.65,498.56 552.34,498.57 553.03,498.57 553.73,498.57 554.42,498.57 555.12,498.57 555.81,498.57 556.50,498.57 557.20,498.57 557.89,498.57 558.58,498.57 559.28,498.57 559.97,498.57 560.66,498.57 561.36,498.57 562.05,498.57 562.74,498.57 563.44,498.57 564.13,498.57 564.82,498.57 565.52,498.57 566.21,498.57 566.90,498.57 567.60,498.57 568.29,498.57 568.98,498.57 569.68,498.57 570.37,498.57 571.06,498.58 571.76,498.58 572.45,498.58 573.14,498.58 573.84,498.58 574.53,498.58 575.22,498.58 575.92,498.58 576.61,498.58 577.31,498.58 578.00,498.58 578.69,498.58 579.39,498.58 580.08,498.58 580.77,498.58 581.47,498.58 582.16,498.58 582.85,498.58 583.55,498.58 584.24,498.58 584.93,498.58 585.63,498.58 586.32,498.58 587.01,498.58 587.71,498.58 588.40,498.58 589.09,498.58 589.79,498.58 590.48,498.58 591.17,498.58 591.87,498.58 592.56,498.58 593.25,498.58 593.95,498.58 594.64,498.58 595.33,498.58 596.03,498.58 596.72,498.59 597.42,498.59 598.11,498.59 598.80,498.59 599.50,498.59 600.19,498.59 600.88,498.59 601.58,498.59 602.27,498.59 602.96,498.59 603.66,498.59 604.35,498.59 605.04,498.59 605.74,498.59 606.43,498.59 607.12,498.59 607.82,498.59 608.51,498.59 609.20,498.59 609.90,498.59 610.59,498.59 611.28,498.59 611.98,498.59 612.67,498.59 613.36,498.59 614.06,498.59 614.75,498.59 615.44,498.59 616.14,498.59 616.83,498.59 617.52,498.59 618.22,498.59 618.91,498.59 619.61,498.59 620.30,498.59 620.99,498.59 621.69,498.59 622.38,498.59 623.07,498.59 623.77,498.59 624.46,498.59 625.15,498.59 625.85,498.59 626.54,498.59 627.23,498.59 627.93,498.59 628.62,498.59 629.31,498.59 630.01,498.59 630.70,498.59 631.39,498.59 632.09,498.59 632.78,498.59 633.47,498.59 634.17,498.59 634.86,498.59 635.55,498.59 636.25,498.59 636.94,498.59 637.63,498.59 638.33,498.59 639.02,498.59 639.71,498.59 640.41,498.59 641.10,498.59 641.80,498.59 642.49,498.59 643.18,498.59 643.88,498.60 644.57,498.60 645.26,498.60 645.96,498.60 646.65,498.60 647.34,498.60 648.04,498.60 648.73,498.60 649.42,498.60 650.12,498.60 650.81,498.60 651.50,498.60 652.20,498.60 652.89,498.60 653.58,498.60 654.28,498.60 654.97,498.60 655.66,498.60 656.36,498.60 657.05,498.60 657.74,498.60 658.44,498.60 659.13,498.60 659.82,498.60 660.52,498.60 661.21,498.60 661.91,498.60 662.60,498.60 663.29,498.60 663.99,498.60 664.68,498.60 665.37,498.60 666.07,498.60 666.76,498.60 667.45,498.60 668.15,498.60 668.84,498.60 669.53,498.60 670.23,498.60 670.92,498.60 671.61,498.60 672.31,498.60 673.00,498.60 673.69,498.60 674.39,498.60 675.08,498.60 675.77,498.60 676.47,498.60 677.16,498.60 677.85,498.60 678.55,498.60 679.24,498.60 679.93,498.60 680.63,498.60 681.32,498.60 682.01,498.60 682.71,498.60 683.40,498.60 684.10,498.60 684.79,498.60 685.48,498.60 686.18,498.60 686.87,498.60 687.56,498.60 688.26,498.60 688.95,498.60 689.64,498.60 690.34,498.60 691.03,498.60 691.72,498.60 692.42,498.60 693.11,498.60 693.80,498.60 694.50,498.60 695.19,498.60 695.88,498.60 696.58,498.60 697.27,498.60 697.96,498.60 698.66,498.60 699.35,498.60 700.04,498.60 700.74,498.60 701.43,498.60 702.12,498.60 702.82,498.60 703.51,498.60 704.21,498.60 704.90,498.60 705.59,498.60 706.29,498.60 706.98,498.60 707.67,498.60 708.37,498.60 709.06,498.60 709.75,498.60 710.45,498.60 711.14,498.60 711.83,498.60 712.53,498.60 713.22,498.60 713.91,498.60 714.61,498.60 715.30,498.60 715.99,498.60 716.69,498.60 717.38,498.60 718.07,498.60 718.77,498.60 719.46,498.60 720.15,498.60 720.85,498.60 721.54,498.60 722.23,498.60 722.93,498.60 723.62,498.60 724.31,498.60 725.01,498.60 725.70,498.60 726.40,498.60 727.09,498.60 727.78,498.60 728.48,498.60 729.17,498.60 729.86,498.60 730.56,498.60 731.25,498.60 731.94,498.60 732.64,498.60 733.33,498.60 734.02,498.60 734.72,498.60 735.41,498.60 736.10,498.60 736.80,498.60 737.49,498.60 738.18,498.60 738.88,498.60 739.57,498.60 740.26,498.60 740.96,498.60 741.65,498.60 742.34,498.60 743.04,498.60 743.73,498.60 744.42,498.60 745.12,498.60 745.81,498.60 746.51,498.60 747.20,498.60 747.89,498.60 748.59,498.60 749.28,498.60 749.97,498.60 750.67,498.60 751.36,498.60 752.05,498.60 752.75,498.60 753.44,498.60 754.13,498.60 754.83,498.60 755.52,498.60 756.21,498.60 756.91,498.60 757.60,498.60 758.29,498.60 758.99,498.60 759.68,498.60 760.37,498.60 761.07,498.60 761.76,498.60 762.45,498.60 763.15,498.60 763.84,498.60 764.53,498.60 765.23,498.60 765.92,498.60 766.61,498.60 767.31,498.60 768.00,498.60 768.70,498.60 769.39,498.60 770.08,498.60 770.78,498.60 771.47,498.60 772.16,498.60 772.86,498.60 773.55,498.60" stroke="#03a01a"/>
<polyline points="80.80,497.77 81.49,472.41 82.19,461.58 82.88,453.29 83.57,446.31 84.27,440.17 84.96,434.64 85.65,429.56 86.35,424.86 87.04,420.45 87.74,416.29 88.43,412.36 89.12,408.61 89.82,405.03 90.51,401.60 91.20,398.30 91.90,395.13 92.59,392.07 93.28,389.11 93.98,386.25 94.67,383.48 95.36,380.79 96.06,378.18 96.75,375.64 97.44,373.17 98.14,370.76 98.83,368.42 99.52,366.13 100.22,363.90 100.91,361.73 101.60,359.61 102.30,357.53 102.99,355.51 103.68,353.52 104.38,351.59 105.07,349.69 105.76,347.84 106.46,346.02 107.15,344.25 107.84,342.51 108.54,340.80 109.23,339.14 109.93,337.50 110.62,335.90 111.31,334.33 112.01,332.79 112.70,331.29 113.39,329.81 114.09,328.36 114.78,326.94 115.47,325.55 116.17,324.19 116.86,322.85 117.55,321.54 118.25,320.25 118.94,318.99 119.63,317.76 120.33,316.54 121.02,315.36 121.71,314.19 122.41,313.05 123.10,311.93 123.79,310.83 124.49,309.76 125.18,308.70 125.87,307.67 126.57,306.66 127.26,305.67 127.95,304.69 128.65,303.74 129.34,302.81 130.04,301.90 130.73,301.00 131.42,300.13 132.12,299.27 132.81,298.43 133.50,297.61 134.20,296.81 134.89,296.02 135.58,295.25 136.28,294.50 136.97,293.77 137.66,293.05 138.36,292.35 139.05,291.66 139.74,290.99 140.44,290.34 141.13,289.70 141.82,289.08 142.52,288.47 143.21,287.88 143.90,287.30 144.60,286.73 145.29,286.19 145.98,285.65 146.68,285.13 147.37,284.63 148.06,284.14 148.76,283.66 149.45,283.19 150.14,282.74 150.84,282.31 151.53,281.88 152.23,281.47 152.92,281.07 153.61,280.69 154.31,280.32 155.00,279.96 155.69,279.61 156.39,279.27 157.08,278.95 157.77,278.64 158.47,278.34 159.16,278.05 159.85,277.78 160.55,277.51 161.24,277.26 161.93,277.02 162.63,276.79 163.32,276.57 164.01,276.37 164.71,276.17 165.40,275.98 166.09,275.81 166.79,275.64 167.48,275.49 168.17,275.35 168.87,275.21 169.56,275.09 170.25,274.98 170.95,274.88 171.64,274.78 172.34,274.70 173.03,274.63 173.72,274.57 174.42,274.51 175.11,274.47 175.80,274.43 176.50,274.41 177.19,274.39 177.88,274.38 178.58,274.38 179.27,274.40 179.96,274.42 180.66,274.44 181.35,274.48 182.04,274.53 182.74,274.58 183.43,274.64 184.12,274.71 184.82,274.79 185.51,274.88 186.20,274.98 186.90,275.08 187.59,275.19 188.28,275.31 188.98,275.44 189.67,275.58 190.36,275.72 191.06,275.87 191.75,276.03 192.44,276.19 193.14,276.37 193.83,276.55 194.53,276.73 195.22,276.93 195.91,277.13 196.61,277.34 197.30,277.55 197.99,277.78 198.69,278.01 199.38,278.24 200.07,278.49 200.77,278.74 201.46,278.99 202.15,279.25 202.85,279.52 203.54,279.80 204.23,280.08 204.93,280.37 205.62,280.66 206.31,280.96 207.01,281.27 207.70,281.58 208.39,281.90 209.09,282.22 209.78,282.55 210.47,282.89 211.17,283.23 211.86,283.57 212.55,283.93 213.25,284.28 213.94,284.65 214.64,285.02 215.33,285.39 216.02,285.77 216.72,286.15 217.41,286.54 218.10,286.93 218.80,287.33 219.49,287.74 220.18,288.15 220.88,288.56 221.57,288.98 222.26,289.40 222.96,289.83 223.65,290.26 224.34,290.70 225.04,291.14 225.73,291.59 226.42,292.04 227.12,292.49 227.81,292.95 228.50,293.41 229.20,293.88 229.89,294.35 230.58,294.83 231.28,295.31 231.97,295.79 232.66,296.28 233.36,296.77 234.05,297.26 234.74,297.76 235.44,298.26 236.13,298.77 236.83,299.28 237.52,299.79 238.21,300.31 238.91,300.83 239.60,301.35 240.29,301.88 240.99,302.41 241.68,302.94 242.37,303.48 243.07,304.02 243.76,304.56 244.45,305.11 245.15,305.65 245.84,306.21 246.53,306.76 247.23,307.32 247.92,307.88 248.61,308.44 249.31,309.01 250.00,309.58 250.69,310.15 251.39,310.72 252.08,311.30 252.77,311.88 253.47,312.46 254.16,313.04 254.85,313.63 255.55,314.21 256.24,314.81 256.93,315.40 257.63,315.99 258.32,316.59 259.02,317.19 259.71,317.79 260.40,318.39 261.10,319.00 261.79,319.61 262.48,320.22 263.18,320.83 263.87,321.44 264.56,322.06 265.26,322.67 265.95,323.29 266.64,323.91 267.34,324.53 268.03,325.16 268.72,325.78 269.42,326.41 270.11,327.03 270.80,327.66 271.50,328.29 272.19,328.93 272.88,329.56 273.58,330.19 274.27,330.83 274.96,331.47 275.66,332.10 276.35,332.74 277.04,333.38 277.74,334.03 278.43,334.67 279.13,335.31 279.82,335.96 280.51,336.60 281.21,337.25 281.90,337.90 282.59,338.54 283.29,339.19 283.98,339.84 284.67,340.49 285.37,341.14 286.06,341.79 286.75,342.45 287.45,343.10 288.14,343.75 288.83,344.41 289.53,345.06 290.22,345.72 290.91,346.37 291.61,347.03 292.30,347.68 292.99,348.34 293.69,349.00 294.38,349.65 295.07,350.31 295.77,350.97 296.46,351.63 297.15,352.28 297.85,352.94 298.54,353.60 299.23,354.26 299.93,354.92 300.62,355.57 301.32,356.23 302.01,356.89 302.70,357.55 303.40,358.21 304.09,358.87 304.78,359.52 305.48,360.18 306.17,360.84 306.86,361.49 307.56,362.15 308.25,362.81 308.94,363.46 309.64,364.12 310.33,364.78 311.02,365.43 311.72,366.09 312.41,366.74 313.10,367.39 313.80,368.05 314.49,368.70 315.18,369.35 315.88,370.00 316.57,370.66 317.26,371.31 317.96,371.96 318.65,372.61 319.34,373.25 320.04,373.90 320.73,374.55 321.43,375.20 322.12,375.84 322.81,376.49 323.51,377.13 324.20,377.77 324.89,378.42 325.59,379.06 326.28,379.70 326.97,380.34 327.67,380.98 328.36,381.61 329.05,382.25 329.75,382.89 330.44,383.52 331.13,384.16 331.83,384.79 332.52,385.42 333.21,386.05 333.91,386.68 334.60,387.31 335.29,387.94 335.99,388.56 336.68,389.19 337.37,389.81 338.07,390.43 338.76,391.05 339.45,391.67 340.15,392.29 340.84,392.91 341.53,393.53 342.23,394.14 342.92,394.75 343.62,395.37 344.31,395.98 345.00,396.59 345.70,397.19 346.39,397.80 347.08,398.40 347.78,399.01 348.47,399.61 349.16,400.21 349.86,400.81 350.55,401.41 351.24,402.00 351.94,402.60 352.63,403.19 353.32,403.78 354.02,404.37 354.71,404.96 355.40,405.55 356.10,406.13 356.79,406.72 357.48,407.30 358.18,407.88 358.87,408.46 359.56,409.03 360.26,409.61 360.95,410.18 361.64,410.75 362.34,411.32 363.03,411.89 363.73,412.46 364.42,413.02 365.11,413.59 365.81,414.15 366.50,414.71 367.19,415.26 367.89,415.82 368.58,416.37 369.27,416.92 369.97,417.47 370.66,418.02 371.35,418.57 372.05,419.11 372.74,419.66 373.43,420.20 374.13,420.74 374.82,421.27 375.51,421.81 376.21,422.34 376.90,422.87 377.59,423.40 378.29,423.93 378.98,424.46 379.67,424.98 380.37,425.50 381.06,426.02 381.75,426.54 382.45,427.05 383.14,427.57 383.83,428.08 384.53,428.59 385.22,429.10 385.92,429.60 386.61,430.10 387.30,430.61 388.00,431.11 388.69,431.60 389.38,432.10 390.08,432.59 390.77,433.08 391.46,433.57 392.16,434.06 392.85,434.54 393.54,435.03 394.24,435.51 394.93,435.99 395.62,436.46 396.32,436.94 397.01,437.41 397.70,437.88 398.40,438.35 399.09,438.82 399.78,439.28 400.48,439.74 401.17,440.20 401.86,440.66 402.56,441.11 403.25,441.57 403.94,442.02 404.64,442.47 405.33,442.91 406.03,443.36 406.72,443.80 407.41,444.24 408.11,444.68 408.80,445.12 409.49,445.55 410.19,445.98 410.88,446.41 411.57,446.84 412.27,447.27 412.96,447.69 413.65,448.11 414.35,448.53 415.04,448.95 415.73,449.36 416.43,449.77 417.12,450.19 417.81,450.59 418.51,451.00 419.20,451.40 419.89,451.81 420.59,452.21 421.28,452.60 421.97,453.00 422.67,453.39 423.36,453.78 424.05,454.17 424.75,454.56 425.44,454.94 426.13,455.32 426.83,455.70 427.52,456.08 428.22,456.46 428.91,456.83 429.60,457.20 430.30,457.57 430.99,457.94 431.68,458.31 432.38,458.67 433.07,459.03 433.76,459.39 434.46,459.75 435.15,460.10 435.84,460.45 436.54,460.80 437.23,461.15 437.92,461.50 438.62,461.84 439.31,462.18 440.00,462.52 440.70,462.86 441.39,463.20 442.08,463.53 442.78,463.86 443.47,464.19 444.16,464.52 444.86,464.84 445.55,465.17 446.24,465.49 446.94,465.80 447.63,466.12 448.32,466.44 449.02,466.75 449.71,467.06 450.41,467.37 451.10,467.67 451.79,467.98 452.49,468.28 453.18,468.58 453.87,468.88 454.57,469.18 455.26,469.47 455.95,469.76 456.65,470.05 457.34,470.34 458.03,470.63 458.73,470.91 459.42,471.19 460.11,471.47 460.81,471.75 461.50,472.03 462.19,472.30 462.89,472.57 463.58,472.84 464.27,473.11 464.97,473.38 465.66,473.64 466.35,473.91 467.05,474.17 467.74,474.43 468.43,474.68 469.13,474.94 469.82,475.19 470.52,475.44 471.21,475.69 471.90,475.94 472.60,476.18 473.29,476.43 473.98,476.67 474.68,476.91 475.37,477.15 476.06,477.38 476.76,477.62 477.45,477.85 478.14,478.08 478.84,478.31 479.53,478.54 480.22,478.76 480.92,478.98 481.61,479.21 482.30,479.42 483.00,479.64 483.69,479.86 484.38,480.07 485.08,480.29 485.77,480.50 486.46,480.71 487.16,480.91 487.85,481.12 488.54,481.32 489.24,481.52 489.93,481.73 490.62,481.92 491.32,482.12 492.01,482.32 492.71,482.51 493.40,482.70 494.09,482.89 494.79,483.08 495.48,483.27 496.17,483.45 496.87,483.64 497.56,483.82 498.25,484.00 498.95,484.18 499.64,484.36 500.33,484.53 501.03,484.71 501.72,484.88 502.41,485.05 503.11,485.22 503.80,485.39 504.49,485.55 505.19,485.72 505.88,485.88 506.57,486.04 507.27,486.20 507.96,486.36 508.65,486.52 509.35,486.67 510.04,486.83 510.73,486.98 511.43,487.13 512.12,487.28 512.82,487.43 513.51,487.58 514.20,487.72 514.90,487.87 515.59,488.01 516.28,488.15 516.98,488.29 517.67,488.43 518.36,488.57 519.06,488.70 519.75,488.84 520.44,488.97 521.14,489.10 521.83,489.23 522.52,489.36 523.22,489.49 523.91,489.61 524.60,489.74 525.30,489.86 525.99,489.98 526.68,490.10 527.38,490.22 528.07,490.34 528.76,490.46 529.46,490.58 530.15,490.69 530.84,490.80 531.54,490.92 532.23,491.03 532.92,491.14 533.62,491.25 534.31,491.35 535.01,491.46 535.70,491.56 536.39,491.67 537.09,491.77 537.78,491.87 538.47,491.97 539.17,492.07 539.86,492.17 540.55,492.27 541.25,492.36 541.94,492.46 542.63,492.55 543.33,492.64 544.02,492.74 544.71,492.83 545.41,492.92 546.10,493.00 546.79,493.09 547.49,493.18 548.18,493.26 548.87,493.35 549.57,493.43 550.26,493.51 550.95,493.59 551.65,493.67 552.34,493.75 553.03,493.83 553.73,493.91 554.42,493.98 555.12,494.06 555.81,494.13 556.50,494.21 557.20,494.28 557.89,494.35 558.58,494.42 559.28,494.49 559.97,494.56 560.66,494.63 561.36,494.69 562.05,494.76 562.74,494.83 563.44,494.89 564.13,494.95 564.82,495.02 565.52,495.08 566.21,495.14 566.90,495.20 567.60,495.26 568.29,495.32 568.98,495.38 569.68,495.43 570.37,495.49 571.06,495.54 571.76,495.60 572.45,495.65 573.14,495.71 573.84,495.76 574.53,495.81 575.22,495.86 575.92,495.91 576.61,495.96 577.31,496.01 578.00,496.06 578.69,496.10 579.39,496.15 580.08,496.20 580.77,496.24 581.47,496.29 582.16,496.33 582.85,496.37 583.55,496.42 584.24,496.46 584.93,496.50 585.63,496.54 586.32,496.58 587.01,496.62 587.71,496.66 588.40,496.70 589.09,496.74 589.79,496.77 590.48,496.81 591.17,496.85 591.87,496.88 592.56,496.92 593.25,496.95 593.95,496.98 594.64,497.02 595.33,497.05 596.03,497.08 596.72,497.11 597.42,497.15 598.11,497.18 598.80,497.21 599.50,497.24 600.19,497.26 600.88,497.29 601.58,497.32 602.27,497.35 602.96,497.38 603.66,497.40 604.35,497.43 605.04,497.45 605.74,497.48 606.43,497.50 607.12,497.53 607.82,497.55 608.51,497.58 609.20,497.60 609.90,497.62 610.59,497.64 611.28,497.67 611.98,497.69 612.67,497.71 613.36,497.73 614.06,497.75 614.75,497.77 615.44,497.79 616.14,497.81 616.83,497.83 617.52,497.85 618.22,497.86 618.91,497.88 619.61,497.90 620.30,497.92 620.99,497.93 621.69,497.95 622.38,497.97 623.07,497.98 623.77,498.00 624.46,498.01 625.15,498.03 625.85,498.04 626.54,498.06 627.23,498.07 627.93,498.08 628.62,498.10 629.31,498.11 630.01,498.12 630.70,498.14 631.39,498.15 632.09,498.16 632.78,498.17 633.47,498.18 634.17,498.19 634.86,498.21 635.55,498.22 636.25,498.23 636.94,498.24 637.63,498.25 638.33,498.26 639.02,498.27 639.71,498.28 640.41,498.29 641.10,498.29 641.80,498.30 642.49,498.31 643.18,498.32 643.88,498.33 644.57,498.34 645.26,498.34 645.96,498.35 646.65,498.36 647.34,498.37 648.04,498.37 648.73,498.38 649.42,498.39 650.12,498.39 650.81,498.40 651.50,498.41 652.20,498.41 652.89,498.42 653.58,498.42 654.28,498.43 654.97,498.44 655.66,498.44 656.36,498.45 657.05,498.45 657.74,498.46 658.44,498.46 659.13,498.47 659.82,498.47 660.52,498.47 661.21,498.48 661.91,498.48 662.60,498.49 663.29,498.49 663.99,498.49 664.68,498.50 665.37,498.50 666.07,498.51 666.76,498.51 667.45,498.51 668.15,498.52 668.84,498.52 669.53,498.52 670.23,498.52 670.92,498.53 671.61,498.53 672.31,498.53 673.00,498.54 673.69,498.54 674.39,498.54 675.08,498.54 675.77,498.54 676.47,498.55 677.16,498.55 677.85,498.55 678.55,498.55 679.24,498.55 679.93,498.56 680.63,498.56 681.32,498.56 682.01,498.56 682.71,498.56 683.40,498.57 684.10,498.57 684.79,498.57 685.48,498.57 686.18,498.57 686.87,498.57 687.56,498.57 688.26,498.57 688.95,498.58 689.64,498.58 690.34,498.58 691.03,498.58 691.72,498.58 692.42,498.58 693.11,498.58 693.80,498.58 694.50,498.58 695.19,498.58 695.88,498.59 696.58,498.59 697.27,498.59 697.96,498.59 698.66,498.59 699.35,498.59 700.04,498.59 700.74,498.59 701.43,498.59 702.12,498.59 702.82,498.59 703.51,498.59 704.21,498.59 704.90,498.59 705.59,498.59 706.29,498.59 706.98,498.59 707.67,498.59 708.37,498.59 709.06,498.59 709.75,498.60 710.45,498.60 711.14,498.60 711.83,498.60 712.53,498.60 713.22,498.60 713.91,498.60 714.61,498.60 715.30,498.60 715.99,498.60 716.69,498.60 717.38,498.60 718.07,498.60 718.77,498.60 719.46,498.60 720.15,498.60 720.85,498.60 721.54,498.60 722.23,498.60 722.93,498.60 723.62,498.60 724.31,498.60 725.01,498.60 725.70,498.60 726.40,498.60 727.09,498.60 727.78,498.60 728.48,498.60 729.17,498.60 729.86,498.60 730.56,498.60 731.25,498.60 731.94,498.60 732.64,498.60 733.33,498.60 734.02,498.60 734.72,498.60 735.41,498.60 736.10,498.60 736.80,498.60 737.49,498.60 738.18,498.60 738.88,498.60 739.57,498.60 740.26,498.60 740.96,498.60 741.65,498.60 742.34,498.60 743.04,498.60 743.73,498.60 744.42,498.60 745.12,498.60 745.81,498.60 746.51,498.60 747.20,498.60 747.89,498.60 748.59,498.60 749.28,498.60 749.97,498.60 750.67,498.60 751.36,498.60 752.05,498.60 752.75,498.60 753.44,498.60 754.13,498.60 754.83,498.60 755.52,498.60 756.21,498.60 756.91,498.60 757.60,498.60 758.29,498.60 758.99,498.60 759.68,498.60 760.37,498.60 761.07,498.60 761.76,498.60 762.45,498.60 763.15,498.60 763.84,498.60 764.53,498.60 765.23,498.60 765.92,498.60 766.61,498.60 767.31,498.60 768.00,498.60 768.70,498.60 769.39,498.60 770.08,498.60 770.78,498.60 771.47,498.60 772.16,498.60 772.86,498.60 773.55,498.60" stroke="#f21212"/>
<polyline points="80.80,498.60 81.49,498.60 82.19,498.60 82.88,498.60 83.57,498.60 84.27,498.60 84.96,498.60 85.65,498.60 86.35,498.60 87.04,498.60 87.74,498.60 88.43,498.60 89.12,498.60 89.82,498.60 90.51,498.60 91.20,498.60 91.90,498.60 92.59,498.60 93.28,498.60 93.98,498.60 94.67,498.60 95.36,498.60 96.06,498.60 96.75,498.60 97.44,498.60 98.14,498.60 98.83,498.60 99.52,498.60 100.22,498.60 100.91,498.60 101.60,498.60 102.30,498.60 102.99,498.60 103.68,498.60 104.38,498.60 105.07,498.60 105.76,498.60 106.46,498.60 107.15,498.60 107.84,498.60 108.54,498.60 109.23,498.60 109.93,498.60 110.62,498.60 111.31,498.60 112.01,498.60 112.70,498.60 113.39,498.60 114.09,498.60 114.78,498.60 115.47,498.60 116.17,498.60 116.86,498.60 117.55,498.60 118.25,498.60 118.94,498.60 119.63,498.60 120.33,498.60 121.02,498.60 121.71,498.60 122.41,498.60 123.10,498.60 123.79,498.60 124.49,498.60 125.18,498.60 125.87,498.60 126.57,498.60 127.26,498.60 127.95,498.60 128.65,498.60 129.34,498.60 130.04,498.60 130.73,498.60 131.42,498.60 132.12,498.60 132.81,498.60 133.50,498.60 134.20,498.60 134.89,498.60 135.58,498.60 136.28,498.60 136.97,498.60 137.66,498.60 138.36,498.60 139.05,498.60 139.74,498.60 140.44,498.60 141.13,498.60 141.82,498.60 142.52,498.60 143.21,498.60 143.90,498.60 144.60,498.60 145.29,498.60 145.98,498.60 146.68,498.60 147.37,498.60 148.06,498.60 148.76,498.60 149.45,498.60 150.14,498.60 150.84,498.60 151.53,498.60 152.23,498.60 152.92,498.60 153.61,498.60 154.31,498.60 155.00,498.60 155.69,498.60 156.39,498.60 157.08,498.60 157.77,498.60 158.47,498.60 159.16,498.60 159.85,498.60 160.55,498.60 161.24,498.60 161.93,498.60 162.63,498.60 163.32,498.60 164.01,498.60 164.71,498.60 165.40,498.60 166.09,498.60 166.79,498.60 167.48,498.60 168.17,498.60 168.87,498.60 169.56,498.60 170.25,498.60 170.95,498.60 171.64,498.60 172.34,498.60 173.03,498.60 173.72,498.60 174.42,498.60 175.11,498.60 175.80,498.60 176.50,498.60 177.19,498.60 177.88,498.60 178.58,498.60 179.27,498.60 179.96,498.60 180.66,498.60 181.35,498.60 182.04,498.60 182.74,498.60 183.43,498.60 184.12,498.60 184.82,498.60 185.51,498.60 186.20,498.60 186.90,498.60 187.59,498.60 188.28,498.60 188.98,498.60 189.67,498.60 190.36,498.60 191.06,498.60 191.75,498.60 192.44,498.60 193.14,498.60 193.83,498.60 194.53,498.60 195.22,498.60 195.91,498.60 196.61,498.60 197.30,498.60 197.99,498.60 198.69,498.60 199.38,498.60 200.07,498.60 200.77,498.60 201.46,498.60 202.15,498.60 202.85,498.60 203.54,498.60 204.23,498.60 204.93,498.60 205.62,498.60 206.31,498.60 207.01,498.59 207.70,498.59 208.39,498.59 209.09,498.59 209.78,498.59 210.47,498.59 211.17,498.59 211.86,498.59 212.55,498.59 213.25,498.59 213.94,498.59 214.64,498.59 215.33,498.59 216.02,498.59 216.72,498.59 217.41,498.59 218.10,498.59 218.80,498.59 219.49,498.59 220.18,498.59 220.88,498.59 221.57,498.59 222.26,498.59 222.96,498.59 223.65,498.59 224.34,498.59 225.04,498.59 225.73,498.59 226.42,498.59 227.12,498.59 227.81,498.59 228.50,498.58 229.20,498.58 229.89,498.58 230.58,498.58 231.28,498.58 231.97,498.58 232.66,498.58 233.36,498.58 234.05,498.58 234.74,498.58 235.44,498.58 236.13,498.58 236.83,498.58 237.52,498.58 238.21,498.58 238.91,498.58 239.60,498.57 240.29,498.57 240.99,498.57 241.68,498.57 242.37,498.57 243.07,498.57 243.76,498.57 244.45,498.57 245.15,498.57 245.84,498.57 246.53,498.57 247.23,498.57 247.92,498.56 248.61,498.56 249.31,498.56 250.00,498.56 250.69,498.56 251.39,498.56 252.08,498.56 252.77,498.56 253.47,498.55 254.16,498.55 254.85,498.55 255.55,498.55 256.24,498.55 256.93,498.55 257.63,498.55 258.32,498.55 259.02,498.54 259.71,498.54 260.40,498.54 261.10,498.54 261.79,498.54 262.48,498.54 263.18,498.53 263.87,498.53 264.56,498.53 265.26,498.53 265.95,498.53 266.64,498.52 267.34,498.52 268.03,498.52 268.72,498.52 269.42,498.52 270.11,498.51 270.80,498.51 271.50,498.51 272.19,498.51 272.88,498.50 273.58,498.50 274.27,498.50 274.96,498.50 275.66,498.49 276.35,498.49 277.04,498.49 277.74,498.49 278.43,498.48 279.13,498.48 279.82,498.48 280.51,498.47 281.21,498.47 281.90,498.47 282.59,498.47 283.29,498.46 283.98,498.46 284.67,498.46 285.37,498.45 286.06,498.45 286.75,498.44 287.45,498.44 288.14,498.44 288.83,498.43 289.53,498.43 290.22,498.43 290.91,498.42 291.61,498.42 292.30,498.41 292.99,498.41 293.69,498.40 294.38,498.40 295.07,498.40 295.77,498.39 296.46,498.39 297.15,498.38 297.85,498.38 298.54,498.37 299.23,498.37 299.93,498.36 300.62,498.35 301.32,498.35 302.01,498.34 302.70,498.34 303.40,498.33 304.09,498.33 304.78,498.32 305.48,498.31 306.17,498.31 306.86,498.30 307.56,498.30 308.25,498.29 308.94,498.28 309.64,498.28 310.33,498.27 311.02,498.26 311.72,498.25 312.41,498.25 313.10,498.24 313.80,498.23 314.49,498.22 315.18,498.22 315.88,498.21 316.57,498.20 317.26,498.19 317.96,498.18 318.65,498.17 319.34,498.17 320.04,498.16 320.73,498.15 321.43,498.14 322.12,498.13 322.81,498.12 323.51,498.11 324.20,498.10 324.89,498.09 325.59,498.08 326.28,498.07 326.97,498.06 327.67,498.05 328.36,498.04 329.05,498.03 329.75,498.01 330.44,498.00 331.13,497.99 331.83,497.98 332.52,497.97 333.21,497.95 333.91,497.94 334.60,497.93 335.29,497.92 335.99,497.90 336.68,497.89 337.37,497.88 338.07,497.86 338.76,497.85 339.45,497.83 340.15,497.82 340.84,497.81 341.53,497.79 342.23,497.78 342.92,497.76 343.62,497.74 344.31,497.73 345.00,497.71 345.70,497.70 346.39,497.68 347.08,497.66 347.78,497.64 348.47,497.63 349.16,497.61 349.86,497.59 350.55,497.57 351.24,497.55 351.94,497.54 352.63,497.52 353.32,497.50 354.02,497.48 354.71,497.46 355.40,497.44 356.10,497.42 356.79,497.39 357.48,497.37 358.18,497.35 358.87,497.33 359.56,497.31 360.26,497.28 360.95,497.26 361.64,497.24 362.34,497.21 363.03,497.19 363.73,497.17 364.42,497.14 365.11,497.12 365.81,497.09 366.50,497.06 367.19,497.04 367.89,497.01 368.58,496.98 369.27,496.96 369.97,496.93 370.66,496.90 371.35,496.87 372.05,496.84 372.74,496.81 373.43,496.78 374.13,496.75 374.82,496.72 375.51,496.69 376.21,496.66 376.90,496.63 377.59,496.60 378.29,496.56 378.98,496.53 379.67,496.50 380.37,496.46 381.06,496.43 381.75,496.39 382.45,496.35 383.14,496.32 383.83,496.28 384.53,496.24 385.22,496.21 385.92,496.17 386.61,496.13 387.30,496.09 388.00,496.05 388.69,496.01 389.38,495.97 390.08,495.93 390.77,495.88 391.46,495.84 392.16,495.80 392.85,495.75 393.54,495.71 394.24,495.66 394.93,495.62 395.62,495.57 396.32,495.52 397.01,495.48 397.70,495.43 398.40,495.38 399.09,495.33 399.78,495.28 400.48,495.23 401.17,495.18 401.86,495.13 402.56,495.07 403.25,495.02 403.94,494.97 404.64,494.91 405.33,494.86 406.03,494.80 406.72,494.74 407.41,494.68 408.11,494.63 408.80,494.57 409.49,494.51 410.19,494.45 410.88,494.38 411.57,494.32 412.27,494.26 412.96,494.19 413.65,494.13 414.35,494.06 415.04,494.00 415.73,493.93 416.43,493.86 417.12,493.79 417.81,493.72 418.51,493.65 419.20,493.58 419.89,493.51 420.59,493.44 421.28,493.36 421.97,493.29 422.67,493.21 423.36,493.13 424.05,493.06 424.75,492.98 425.44,492.90 426.13,492.82 426.83,492.73 427.52,492.65 428.22,492.57 428.91,492.48 429.60,492.40 430.30,492.31 430.99,492.22 431.68,492.13 432.38,492.04 433.07,491.95 433.76,491.86 434.46,491.77 435.15,491.67 435.84,491.58 436.54,491.48 437.23,491.38 437.92,491.29 438.62,491.19 439.31,491.09 440.00,490.98 440.70,490.88 441.39,490.77 442.08,490.67 442.78,490.56 443.47,490.45 444.16,490.34 444.86,490.23 445.55,490.12 446.24,490.01 446.94,489.89 447.63,489.78 448.32,489.66 449.02,489.54 449.71,489.42 450.41,489.30 451.10,489.18 451.79,489.05 452.49,488.93 453.18,488.80 453.87,488.67 454.57,488.54 455.26,488.41 455.95,488.28 456.65,488.15 457.34,488.01 458.03,487.87 458.73,487.74 459.42,487.60 460.11,487.45 460.81,487.31 461.50,487.17 462.19,487.02 462.89,486.87 463.58,486.72 464.27,486.57 464.97,486.42 465.66,486.26 466.35,486.11 467.05,485.95 467.74,485.79 468.43,485.63 469.13,485.47 469.82,485.30 470.52,485.13 471.21,484.97 471.90,484.80 472.60,484.62 473.29,484.45 473.98,484.28 474.68,484.10 475.37,483.92 476.06,483.74 476.76,483.56 477.45,483.37 478.14,483.18 478.84,482.99 479.53,482.80 480.22,482.61 480.92,482.42 481.61,482.22 482.30,482.02 483.00,481.82 483.69,481.62 484.38,481.41 485.08,481.20 485.77,481.00 486.46,480.78 487.16,480.57 487.85,480.35 488.54,480.14 489.24,479.92 489.93,479.69 490.62,479.47 491.32,479.24 492.01,479.01 492.71,478.78 493.40,478.55 494.09,478.31 494.79,478.07 495.48,477.83 496.17,477.59 496.87,477.34 497.56,477.09 498.25,476.84 498.95,476.59 499.64,476.33 500.33,476.08 501.03,475.82 501.72,475.55 502.41,475.29 503.11,475.02 503.80,474.75 504.49,474.47 505.19,474.20 505.88,473.92 506.57,473.64 507.27,473.35 507.96,473.06 508.65,472.77 509.35,472.48 510.04,472.18 510.73,471.89 511.43,471.58 512.12,471.28 512.82,470.97 513.51,470.66 514.20,470.35 514.90,470.03 515.59,469.71 516.28,469.39 516.98,469.07 517.67,468.74 518.36,468.41 519.06,468.07 519.75,467.73 520.44,467.39 521.14,467.05 521.83,466.70 522.52,466.35 523.22,466.00 523.91,465.64 524.60,465.28 525.30,464.92 525.99,464.55 526.68,464.18 527.38,463.81 528.07,463.43 528.76,463.05 529.46,462.66 530.15,462.28 530.84,461.89 531.54,461.49 532.23,461.09 532.92,460.69 533.62,460.28 534.31,459.87 535.01,459.46 535.70,459.05 536.39,458.62 537.09,458.20 537.78,457.77 538.47,457.34 539.17,456.90 539.86,456.46 540.55,456.02 541.25,455.57 541.94,455.12 542.63,454.67 543.33,454.21 544.02,453.74 544.71,453.28 545.41,452.80 546.10,452.33 546.79,451.85 547.49,451.36 548.18,450.88 548.87,450.38 549.57,449.89 550.26,449.38 550.95,448.88 551.65,448.37 552.34,447.85 553.03,447.34 553.73,446.81 554.42,446.29 555.12,445.75 555.81,445.22 556.50,444.67 557.20,444.13 557.89,443.58 558.58,443.02 559.28,442.46 559.97,441.90 560.66,441.33 561.36,440.75 562.05,440.17 562.74,439.59 563.44,439.00 564.13,438.41 564.82,437.81 565.52,437.21 566.21,436.60 566.90,435.98 567.60,435.36 568.29,434.74 568.98,434.11 569.68,433.48 570.37,432.84 571.06,432.19 571.76,431.54 572.45,430.89 573.14,430.23 573.84,429.56 574.53,428.89 575.22,428.21 575.92,427.53 576.61,426.84 577.31,426.15 578.00,425.45 578.69,424.74 579.39,424.03 580.08,423.32 580.77,422.60 581.47,421.87 582.16,421.14 582.85,420.40 583.55,419.65 584.24,418.90 584.93,418.14 585.63,417.38 586.32,416.61 587.01,415.84 587.71,415.06 588.40,414.27 589.09,413.48 589.79,412.68 590.48,411.88 591.17,411.06 591.87,410.25 592.56,409.42 593.25,408.59 593.95,407.76 594.64,406.91 595.33,406.06 596.03,405.21 596.72,404.35 597.42,403.48 598.11,402.60 598.80,401.72 599.50,400.83 600.19,399.93 600.88,399.03 601.58,398.12 602.27,397.21 602.96,396.29 603.66,395.36 604.35,394.42 605.04,393.48 605.74,392.53 606.43,391.57 607.12,390.61 607.82,389.63 608.51,388.66 609.20,387.67 609.90,386.68 610.59,385.68 611.28,384.67 611.98,383.66 612.67,382.64 613.36,381.61 614.06,380.57 614.75,379.53 615.44,378.48 616.14,377.42 616.83,376.35 617.52,375.28 618.22,374.20 618.91,373.11 619.61,372.01 620.30,370.91 620.99,369.80 621.69,368.68 622.38,367.55 623.07,366.42 623.77,365.27 624.46,364.12 625.15,362.96 625.85,361.80 626.54,360.62 627.23,359.44 627.93,358.25 628.62,357.05 629.31,355.85 630.01,354.63 630.70,353.41 631.39,352.18 632.09,350.94 632.78,349.69 633.47,348.44 634.17,347.17 634.86,345.90 635.55,344.62 636.25,343.33 636.94,342.03 637.63,340.73 638.33,339.41 639.02,338.09 639.71,336.76 640.41,335.42 641.10,334.07 641.80,332.72 642.49,331.35 643.18,329.98 643.88,328.59 644.57,327.20 645.26,325.80 645.96,324.40 646.65,322.98 647.34,321.55 648.04,320.12 648.73,318.67 649.42,317.22 650.12,315.76 650.81,314.29 651.50,312.81 652.20,311.33 652.89,309.83 653.58,308.32 654.28,306.81 654.97,305.29 655.66,303.76 656.36,302.22 657.05,300.67 657.74,299.11 658.44,297.54 659.13,295.96 659.82,294.38 660.52,292.78 661.21,291.18 661.91,289.57 662.60,287.95 663.29,286.32 663.99,284.68 664.68,283.03 665.37,281.38 666.07,279.71 666.76,278.04 667.45,276.35 668.15,274.66 668.84,272.96 669.53,271.25 670.23,269.53 670.92,267.80 671.61,266.07 672.31,264.32 673.00,262.57 673.69,260.81 674.39,259.03 675.08,257.25 675.77,255.47 676.47,253.67 677.16,251.86 677.85,250.05 678.55,248.22 679.24,246.39 679.93,244.55 680.63,242.71 681.32,240.85 682.01,238.99 682.71,237.11 683.40,235.23 684.10,233.34 684.79,231.45 685.48,229.54 686.18,227.63 686.87,225.71 687.56,223.78 688.26,221.84 688.95,219.90 689.64,217.95 690.34,215.99 691.03,214.02 691.72,212.05 692.42,210.07 693.11,208.08 693.80,206.09 694.50,204.09 695.19,202.08 695.88,200.07 696.58,198.05 697.27,196.02 697.96,193.99 698.66,191.95 699.35,189.90 700.04,187.85 700.74,185.80 701.43,183.74 702.12,181.67 702.82,179.60 703.51,177.53 704.21,175.45 704.90,173.36 705.59,171.27 706.29,169.18 706.98,167.09 707.67,164.99 708.37,162.88 709.06,160.78 709.75,158.67 710.45,156.56 711.14,154.45 711.83,152.33 712.53,150.22 713.22,148.10 713.91,145.98 714.61,143.87 715.30,141.75 715.99,139.63 716.69,137.51 717.38,135.40 718.07,133.28 718.77,131.17 719.46,129.06 720.15,126.96 720.85,124.85 721.54,122.76 722.23,120.66 722.93,118.57 723.62,116.49 724.31,114.41 725.01,112.34 725.70,110.28 726.40,108.22 727.09,106.18 727.78,104.14 728.48,102.12 729.17,100.11 729.86,98.11 730.56,96.12 731.25,94.15 731.94,92.19 732.64,90.25 733.33,88.32 734.02,86.42 734.72,84.53 735.41,82.67 736.10,80.82 736.80,79.00 737.49,77.21 738.18,75.44 738.88,73.70 739.57,72.00 740.26,70.32 740.96,68.68 741.65,67.07 742.34,65.50 743.04,63.97 743.73,62.49 744.42,61.05 745.12,59.66 745.81,58.31 746.51,57.03 747.20,55.80 747.89,54.63 748.59,53.53 749.28,52.50 749.97,51.54 750.67,50.66 751.36,49.86 752.05,49.15 752.75,48.54 753.44,48.03 754.13,47.63 754.83,47.35 755.52,47.20 756.21,47.18 756.91,47.31 757.60,47.60 758.29,48.07 758.99,48.72 759.68,49.58 760.37,50.66 761.07,52.00 761.76,53.60 762.45,55.51 763.15,57.77 763.84,60.40 764.53,63.47 765.23,67.03 765.92,71.16 766.61,75.95 767.31,81.53 768.00,88.07 768.70,95.77 769.39,104.96 770.08,116.10 770.78,129.95 771.47,147.86 772.16,172.66 772.86,212.62 773.55,426.24" stroke="#975cbd"/>
</g>
<path d="M46.20 25.70V498.60" stroke="#000" stroke-width="1.5" stroke-linecap="square" fill="none"/>
<path d="M46.16 25.70H808.20V498.60H46.16" stroke="#000" stroke-width="1.37" stroke-linecap="square" fill="none"/>
<path d="M80.80 498.60v6.00M219.35 498.60v6.00M357.90 498.60v6.00M496.45 498.60v6.00M635.00 498.60v6.00M773.55 498.60v6.00M46.16 498.60h-6.00M46.16 419.78h-6.00M46.16 340.97h-6.00M46.16 262.15h-6.00M46.16 183.33h-6.00M46.16 104.52h-6.00M46.16 25.70h-6.00" stroke="#000" stroke-width="1.37" fill="none"/>
<g font-family="'Liberation Sans', sans-serif" fill="#000">
<text transform="translate(72.81,523.60) scale(1.063,1.057)" x="-4.76" font-size="17.15">0</text>
<text transform="translate(80.97,523.60) scale(1.105,1.150)" x="-2.36" font-size="17.15">.</text>
<text transform="translate(89.17,523.60) scale(1.063,1.057)" x="-4.76" font-size="17.15">0</text>
<text transform="translate(211.36,523.60) scale(1.063,1.057)" x="-4.76" font-size="17.15">0</text>
<text transform="translate(219.52,523.60) scale(1.105,1.150)" x="-2.36" font-size="17.15">.</text>
<text transform="translate(227.51,523.60) scale(1.011,1.057)" x="-4.76" font-size="17.15">2</text>
<text transform="translate(349.91,523.60) scale(1.063,1.057)" x="-4.76" font-size="17.15">0</text>
<text transform="translate(358.07,523.60) scale(1.105,1.150)" x="-2.36" font-size="17.15">.</text>
<text transform="translate(366.23,523.60) scale(1.060,1.058)" x="-4.72" font-size="17.15">4</text>
<text transform="translate(488.46,523.60) scale(1.063,1.057)" x="-4.76" font-size="17.15">0</text>
<text transform="translate(496.62,523.60) scale(1.105,1.150)" x="-2.36" font-size="17.15">.</text>
<text transform="translate(504.91,523.60) scale(1.098,1.057)" x="-4.80" font-size="17.15">6</text>
<text transform="translate(627.01,523.60) scale(1.063,1.057)" x="-4.76" font-size="17.15">0</text>
<text transform="translate(635.17,523.60) scale(1.105,1.150)" x="-2.36" font-size="17.15">.</text>
<text transform="translate(643.41,523.60) scale(1.064,1.057)" x="-4.80" font-size="17.15">8</text>
<text transform="translate(765.73,523.60) scale(1.012,1.058)" x="-4.97" font-size="17.15">1</text>
<text transform="translate(773.72,523.60) scale(1.105,1.150)" x="-2.36" font-size="17.15">.</text>
<text transform="translate(781.92,523.60) scale(1.063,1.057)" x="-4.76" font-size="17.15">0</text>
<text transform="translate(28.63,505.10) scale(1.063,1.057)" x="-4.76" font-size="17.15">0</text>
<text transform="translate(28.80,426.28) scale(1.012,1.058)" x="-4.97" font-size="17.15">1</text>
<text transform="translate(28.42,347.47) scale(1.011,1.057)" x="-4.76" font-size="17.15">2</text>
<text transform="translate(28.59,268.65) scale(1.021,1.057)" x="-4.72" font-size="17.15">3</text>
<text transform="translate(28.59,189.83) scale(1.060,1.058)" x="-4.72" font-size="17.15">4</text>
<text transform="translate(28.55,111.02) scale(1.000,1.058)" x="-4.76" font-size="17.15">5</text>
<text transform="translate(28.72,32.20) scale(1.098,1.057)" x="-4.80" font-size="17.15">6</text>
<text transform="translate(273.12,15.40) scale(1.000,1.058)" x="-7.56" font-size="20.58">K</text>
<text transform="translate(285.12,15.40) scale(1.082,1.028)" x="-5.71" font-size="20.58">u</text>
<text transform="translate(300.75,15.40) scale(1.143,1.037)" x="-8.54" font-size="20.58">m</text>
<text transform="translate(316.68,15.40) scale(0.902,1.037)" x="-6.18" font-size="20.58">a</text>
<text transform="translate(328.47,15.40) scale(1.280,1.037)" x="-3.91" font-size="20.58">r</text>
<text transform="translate(337.76,15.40) scale(0.902,1.037)" x="-6.18" font-size="20.58">a</text>
<text transform="translate(349.80,15.40) scale(0.954,1.047)" x="-5.09" font-size="20.58">s</text>
<text transform="translate(363.56,15.40) scale(1.007,1.028)" x="-7.46" font-size="20.58">w</text>
<text transform="translate(377.93,15.40) scale(0.902,1.037)" x="-6.18" font-size="20.58">a</text>
<text transform="translate(394.66,15.40) scale(1.143,1.037)" x="-8.54" font-size="20.58">m</text>
<text transform="translate(410.70,15.40) scale(1.082,1.028)" x="-5.15" font-size="20.58">y</text>
<text transform="translate(431.68,15.40) scale(1.025,1.058)" x="-7.77" font-size="20.58">D</text>
<text transform="translate(442.08,15.40) scale(1.000,1.048)" x="-2.26" font-size="20.58">i</text>
<text transform="translate(450.32,15.40) scale(0.954,1.047)" x="-5.09" font-size="20.58">s</text>
<text transform="translate(459.70,15.40) scale(1.353,1.077)" x="-2.93" font-size="20.58">t</text>
<text transform="translate(468.86,15.40) scale(1.280,1.037)" x="-3.91" font-size="20.58">r</text>
<text transform="translate(475.05,15.40) scale(1.000,1.048)" x="-2.26" font-size="20.58">i</text>
<text transform="translate(484.79,15.40) scale(1.089,1.048)" x="-5.97" font-size="20.58">b</text>
<text transform="translate(497.44,15.40) scale(1.082,1.028)" x="-5.71" font-size="20.58">u</text>
<text transform="translate(508.07,15.40) scale(1.353,1.077)" x="-2.93" font-size="20.58">t</text>
<text transform="translate(514.95,15.40) scale(1.000,1.048)" x="-2.26" font-size="20.58">i</text>
<text transform="translate(524.07,15.40) scale(1.053,1.037)" x="-5.71" font-size="20.58">o</text>
<text transform="translate(536.97,15.40) scale(1.082,1.037)" x="-5.71" font-size="20.58">n</text>
<text transform="translate(556.87,15.40) scale(0.879,1.058)" x="-7.15" font-size="20.58">P</text>
<text transform="translate(570.72,15.40) scale(1.025,1.058)" x="-7.77" font-size="20.58">D</text>
<text transform="translate(584.56,15.40) scale(0.850,1.058)" x="-6.69" font-size="20.58">F</text>
<text transform="translate(427.50,546.60) scale(1.105,1.028)" x="-4.33" font-size="17.15">x</text>
<text transform="translate(12.80,376.27) rotate(-90) scale(0.879,1.058)" x="-5.96" font-size="17.15">P</text>
<text transform="translate(12.80,367.38) rotate(-90) scale(1.280,1.037)" x="-3.26" font-size="17.15">r</text>
<text transform="translate(12.80,359.69) rotate(-90) scale(1.053,1.037)" x="-4.76" font-size="17.15">o</text>
<text transform="translate(12.80,349.06) rotate(-90) scale(1.089,1.048)" x="-4.97" font-size="17.15">b</text>
<text transform="translate(12.80,338.94) rotate(-90) scale(0.902,1.037)" x="-5.15" font-size="17.15">a</text>
<text transform="translate(12.80,327.66) rotate(-90) scale(1.089,1.048)" x="-4.97" font-size="17.15">b</text>
<text transform="translate(12.80,320.11) rotate(-90) scale(1.000,1.048)" x="-1.89" font-size="17.15">i</text>
<text transform="translate(12.80,315.35) rotate(-90) scale(1.000,1.048)" x="-1.89" font-size="17.15">l</text>
<text transform="translate(12.80,310.58) rotate(-90) scale(1.000,1.048)" x="-1.89" font-size="17.15">i</text>
<text transform="translate(12.80,304.83) rotate(-90) scale(1.353,1.077)" x="-2.44" font-size="17.15">t</text>
<text transform="translate(12.80,296.43) rotate(-90) scale(1.082,1.028)" x="-4.29" font-size="17.15">y</text>
<text transform="translate(12.80,278.94) rotate(-90) scale(1.025,1.058)" x="-6.48" font-size="17.15">D</text>
<text transform="translate(12.80,267.41) rotate(-90) scale(1.086,1.037)" x="-4.76" font-size="17.15">e</text>
<text transform="translate(12.80,256.64) rotate(-90) scale(1.082,1.037)" x="-4.76" font-size="17.15">n</text>
<text transform="translate(12.80,246.76) rotate(-90) scale(0.954,1.047)" x="-4.25" font-size="17.15">s</text>
<text transform="translate(12.80,239.92) rotate(-90) scale(1.000,1.048)" x="-1.89" font-size="17.15">i</text>
<text transform="translate(12.80,234.17) rotate(-90) scale(1.353,1.077)" x="-2.44" font-size="17.15">t</text>
<text transform="translate(12.80,225.77) rotate(-90) scale(1.082,1.028)" x="-4.29" font-size="17.15">y</text>
<text transform="translate(12.80,209.95) rotate(-90) scale(0.850,1.058)" x="-5.57" font-size="17.15">F</text>
<text transform="translate(12.80,199.96) rotate(-90) scale(1.082,1.028)" x="-4.76" font-size="17.15">u</text>
<text transform="translate(12.80,189.94) rotate(-90) scale(1.082,1.037)" x="-4.76" font-size="17.15">n</text>
<text transform="translate(12.80,179.88) rotate(-90) scale(1.012,1.037)" x="-4.46" font-size="17.15">c</text>
<text transform="translate(12.80,171.74) rotate(-90) scale(1.353,1.077)" x="-2.44" font-size="17.15">t</text>
<text transform="translate(12.80,166.00) rotate(-90) scale(1.000,1.048)" x="-1.89" font-size="17.15">i</text>
<text transform="translate(12.80,158.40) rotate(-90) scale(1.053,1.037)" x="-4.76" font-size="17.15">o</text>
<text transform="translate(12.80,147.65) rotate(-90) scale(1.082,1.037)" x="-4.76" font-size="17.15">n</text>
</g>
<rect x="338.3" y="34.2" width="177.70" height="129.90" rx="3.4" ry="3.4" fill="#fff" stroke="#c6c6c6" stroke-width="1.72"/>
<path d="M345.3 48.20H379.5" stroke="#0a6fae" stroke-width="2.57" stroke-linecap="square"/>
<path d="M345.3 73.35H379.5" stroke="#ff7808" stroke-width="2.57" stroke-linecap="square"/>
<path d="M345.3 98.50H379.5" stroke="#03a01a" stroke-width="2.57" stroke-linecap="square"/>
<path d="M345.3 123.65H379.5" stroke="#f21212" stroke-width="2.57" stroke-linecap="square"/>
<path d="M345.3 148.80H379.5" stroke="#975cbd" stroke-width="2.57" stroke-linecap="square"/>
<g font-family="'Liberation Sans', sans-serif" fill="#000">
<text transform="translate(398.66,54.10) scale(1.088,1.037)" x="-5.06" font-size="17.15">α</text>
<text transform="translate(411.42,54.10) scale(1.289,0.950)" x="-5.02" font-size="17.15">=</text>
<text transform="translate(424.25,54.10) scale(1.012,1.058)" x="-4.97" font-size="17.15">1</text>
<text transform="translate(432.25,54.10) scale(1.105,1.150)" x="-2.36" font-size="17.15">.</text>
<text transform="translate(440.45,54.10) scale(1.063,1.057)" x="-4.76" font-size="17.15">0</text>
<text transform="translate(448.49,54.10) scale(1.400,1.150)" x="-2.40" font-size="17.15">,</text>
<text transform="translate(462.48,54.10) scale(1.011,1.062)" x="-5.19" font-size="17.15">β</text>
<text transform="translate(474.93,54.10) scale(1.289,0.950)" x="-5.02" font-size="17.15">=</text>
<text transform="translate(487.76,54.10) scale(1.012,1.058)" x="-4.97" font-size="17.15">1</text>
<text transform="translate(495.75,54.10) scale(1.105,1.150)" x="-2.36" font-size="17.15">.</text>
<text transform="translate(503.95,54.10) scale(1.063,1.057)" x="-4.76" font-size="17.15">0</text>
<text transform="translate(398.66,79.25) scale(1.088,1.037)" x="-5.06" font-size="17.15">α</text>
<text transform="translate(411.42,79.25) scale(1.289,0.950)" x="-5.02" font-size="17.15">=</text>
<text transform="translate(424.04,79.25) scale(1.060,1.058)" x="-4.72" font-size="17.15">4</text>
<text transform="translate(432.25,79.25) scale(1.105,1.150)" x="-2.36" font-size="17.15">.</text>
<text transform="translate(440.45,79.25) scale(1.063,1.057)" x="-4.76" font-size="17.15">0</text>
<text transform="translate(448.49,79.25) scale(1.400,1.150)" x="-2.40" font-size="17.15">,</text>
<text transform="translate(462.48,79.25) scale(1.011,1.062)" x="-5.19" font-size="17.15">β</text>
<text transform="translate(474.93,79.25) scale(1.289,0.950)" x="-5.02" font-size="17.15">=</text>
<text transform="translate(487.58,79.25) scale(1.063,1.057)" x="-4.76" font-size="17.15">0</text>
<text transform="translate(495.75,79.25) scale(1.105,1.150)" x="-2.36" font-size="17.15">.</text>
<text transform="translate(503.74,79.25) scale(1.011,1.057)" x="-4.76" font-size="17.15">2</text>
<text transform="translate(398.66,104.40) scale(1.088,1.037)" x="-5.06" font-size="17.15">α</text>
<text transform="translate(411.42,104.40) scale(1.289,0.950)" x="-5.02" font-size="17.15">=</text>
<text transform="translate(424.08,104.40) scale(1.063,1.057)" x="-4.76" font-size="17.15">0</text>
<text transform="translate(432.25,104.40) scale(1.105,1.150)" x="-2.36" font-size="17.15">.</text>
<text transform="translate(440.23,104.40) scale(1.011,1.057)" x="-4.76" font-size="17.15">2</text>
<text transform="translate(448.49,104.40) scale(1.400,1.150)" x="-2.40" font-size="17.15">,</text>
<text transform="translate(462.48,104.40) scale(1.011,1.062)" x="-5.19" font-size="17.15">β</text>
<text transform="translate(474.93,104.40) scale(1.289,0.950)" x="-5.02" font-size="17.15">=</text>
<text transform="translate(487.54,104.40) scale(1.060,1.058)" x="-4.72" font-size="17.15">4</text>
<text transform="translate(495.75,104.40) scale(1.105,1.150)" x="-2.36" font-size="17.15">.</text>
<text transform="translate(503.95,104.40) scale(1.063,1.057)" x="-4.76" font-size="17.15">0</text>
<text transform="translate(398.66,129.55) scale(1.088,1.037)" x="-5.06" font-size="17.15">α</text>
<text transform="translate(411.42,129.55) scale(1.289,0.950)" x="-5.02" font-size="17.15">=</text>
<text transform="translate(424.25,129.55) scale(1.012,1.058)" x="-4.97" font-size="17.15">1</text>
<text transform="translate(432.25,129.55) scale(1.105,1.150)" x="-2.36" font-size="17.15">.</text>
<text transform="translate(440.36,129.55) scale(1.000,1.058)" x="-4.76" font-size="17.15">5</text>
<text transform="translate(448.49,129.55) scale(1.400,1.150)" x="-2.40" font-size="17.15">,</text>
<text transform="translate(462.48,129.55) scale(1.011,1.062)" x="-5.19" font-size="17.15">β</text>
<text transform="translate(474.93,129.55) scale(1.289,0.950)" x="-5.02" font-size="17.15">=</text>
<text transform="translate(487.54,129.55) scale(1.033,1.058)" x="-4.76" font-size="17.15">7</text>
<text transform="translate(495.75,129.55) scale(1.105,1.150)" x="-2.36" font-size="17.15">.</text>
<text transform="translate(503.95,129.55) scale(1.063,1.057)" x="-4.76" font-size="17.15">0</text>
<text transform="translate(398.66,154.70) scale(1.088,1.037)" x="-5.06" font-size="17.15">α</text>
<text transform="translate(411.42,154.70) scale(1.289,0.950)" x="-5.02" font-size="17.15">=</text>
<text transform="translate(424.12,154.70) scale(1.064,1.057)" x="-4.80" font-size="17.15">8</text>
<text transform="translate(432.25,154.70) scale(1.105,1.150)" x="-2.36" font-size="17.15">.</text>
<text transform="translate(440.45,154.70) scale(1.063,1.057)" x="-4.76" font-size="17.15">0</text>
<text transform="translate(448.49,154.70) scale(1.400,1.150)" x="-2.40" font-size="17.15">,</text>
<text transform="translate(462.48,154.70) scale(1.011,1.062)" x="-5.19" font-size="17.15">β</text>
<text transform="translate(474.93,154.70) scale(1.289,0.950)" x="-5.02" font-size="17.15">=</text>
<text transform="translate(487.76,154.70) scale(1.012,1.058)" x="-4.97" font-size="17.15">1</text>
<text transform="translate(495.75,154.70) scale(1.105,1.150)" x="-2.36" font-size="17.15">.</text>
<text transform="translate(503.74,154.70) scale(1.011,1.057)" x="-4.76" font-size="17.15">2</text>
</g>
</svg>
</body></html>
